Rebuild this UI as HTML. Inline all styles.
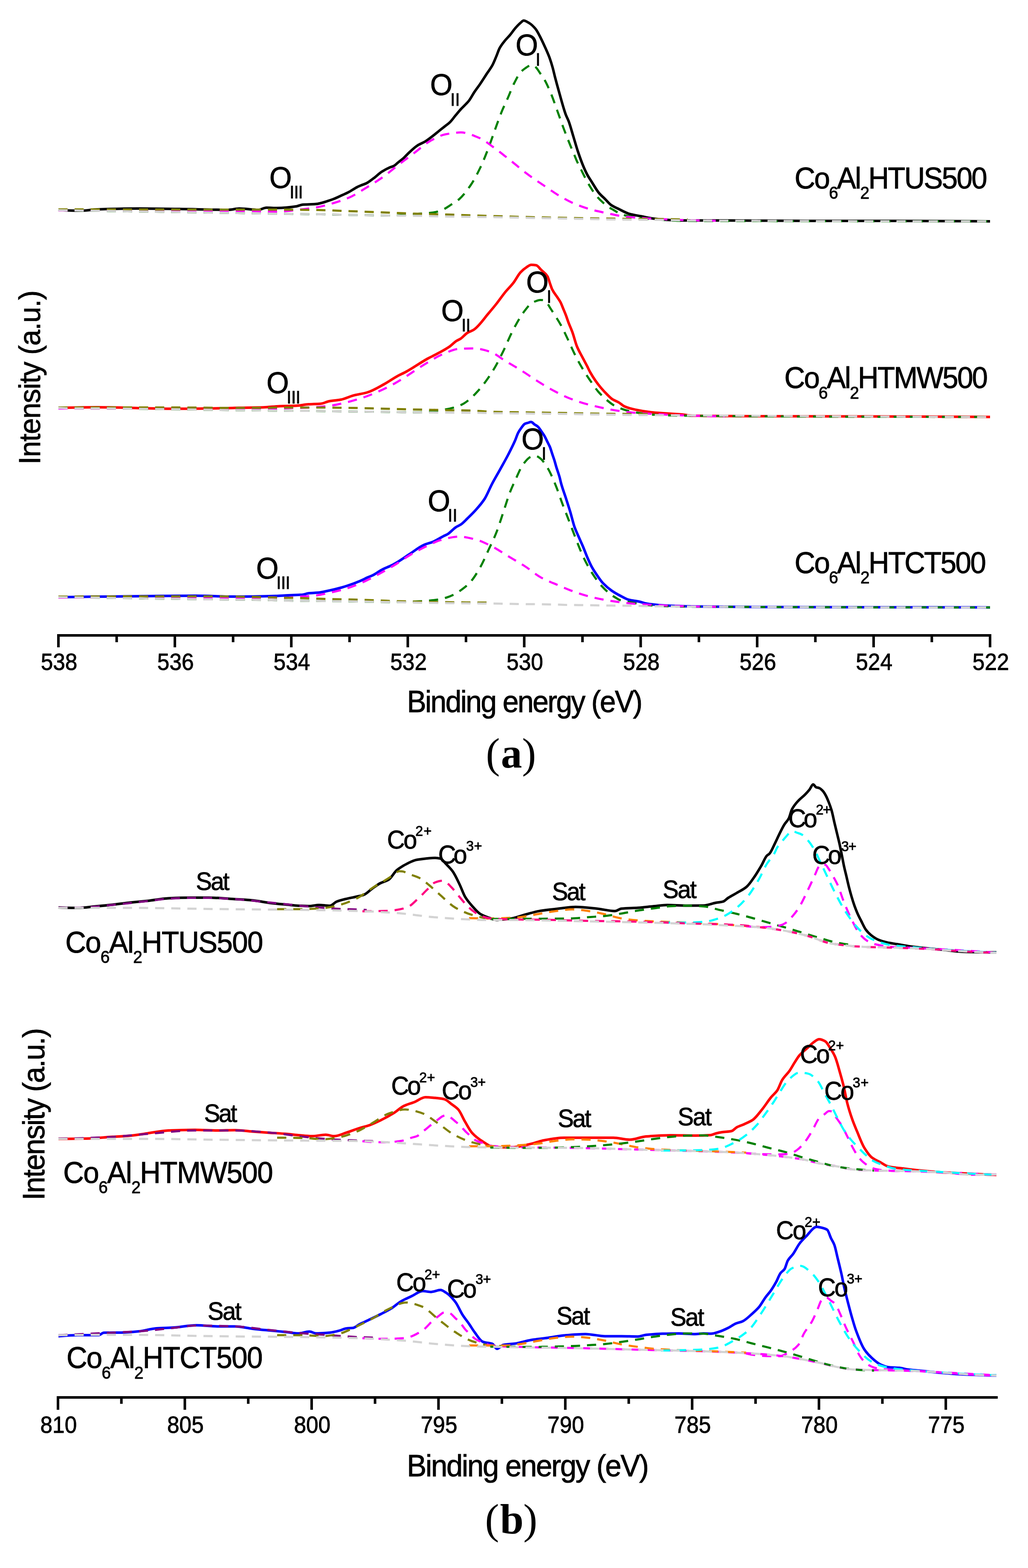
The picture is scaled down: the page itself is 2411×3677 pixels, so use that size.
<!DOCTYPE html><html><head><meta charset="utf-8"><title>XPS spectra</title><style>html,body{margin:0;padding:0;background:#fff;}svg{display:block;}text{stroke:#000;stroke-width:1px;}</style></head><body>
<svg width="2411" height="3677" viewBox="0 0 2411 3677">
<rect width="2411" height="3677" fill="#fff"/>
<path d="M137.0,492.0 C154.7,493.9 172.3,494.0 190.0,494.0 C202.7,494.0 215.3,491.5 228.0,491.0 C260.0,489.8 292.0,489.0 324.0,489.0 C356.0,489.0 388.0,489.6 420.0,490.0 C458.7,490.5 497.3,492.0 536.0,492.0 C544.3,492.0 552.7,489.0 561.0,489.0 C576.0,489.0 591.0,492.0 606.0,492.0 C612.3,492.0 618.7,487.0 625.0,487.0 C633.3,487.0 641.7,487.8 650.0,487.8 C665.3,487.8 680.7,486.0 696.0,483.7 C700.3,483.0 704.7,480.4 709.0,480.0 C719.2,479.1 729.5,479.4 739.7,478.6 C753.1,477.6 766.6,472.1 780.0,467.5 C786.4,465.3 792.8,462.1 799.2,459.2 C805.6,456.3 812.0,453.6 818.4,450.2 C824.8,446.8 831.3,441.9 837.7,438.7 C840.7,437.2 843.6,436.0 846.6,434.8 C850.9,433.0 855.1,431.8 859.4,429.7 C865.0,426.9 870.5,422.3 876.1,418.2 C882.5,413.5 888.9,406.9 895.3,402.8 C901.7,398.7 908.1,395.2 914.5,392.5 C917.5,391.2 920.5,390.8 923.5,389.3 C926.9,387.6 930.3,383.7 933.7,381.0 C938.0,377.5 942.3,374.5 946.6,370.7 C950.4,367.3 954.2,362.8 958.0,359.2 C964.8,352.8 971.6,346.1 978.4,341.7 C984.8,337.5 991.3,335.5 997.7,331.5 C1004.1,327.6 1010.5,322.4 1016.9,317.4 C1021.2,314.1 1025.4,310.4 1029.7,307.0 C1034.0,303.6 1038.2,300.3 1042.5,296.9 C1046.8,293.5 1051.0,290.7 1055.3,286.6 C1059.5,282.5 1063.8,276.3 1068.0,271.2 C1072.3,266.0 1076.7,260.6 1081.0,255.9 C1085.2,251.3 1089.5,247.5 1093.7,243.0 C1095.8,240.8 1097.9,238.7 1100.0,236.0 C1104.3,230.5 1108.5,221.9 1112.8,215.5 C1117.1,209.1 1121.3,203.8 1125.6,197.6 C1131.2,189.5 1136.7,180.5 1142.3,172.0 C1146.5,165.5 1150.8,160.5 1155.0,152.7 C1158.0,147.2 1161.0,139.4 1164.0,132.2 C1166.6,126.1 1169.1,117.8 1171.7,113.0 C1175.6,105.8 1179.4,101.2 1183.3,96.4 C1187.5,91.1 1191.8,87.3 1196.0,82.3 C1200.3,77.1 1204.7,70.5 1209.0,65.6 C1213.2,60.8 1217.5,56.3 1221.7,52.8 C1223.8,51.1 1225.9,48.3 1228.0,48.3 C1232.3,48.3 1236.7,51.4 1241.0,54.0 C1246.1,57.0 1251.2,61.9 1256.3,68.2 C1259.7,72.4 1263.2,79.5 1266.6,86.0 C1270.9,94.1 1275.1,103.4 1279.4,113.0 C1282.8,120.6 1286.2,128.0 1289.6,137.4 C1291.7,143.3 1293.9,150.4 1296.0,158.0 C1298.0,165.1 1300.0,174.3 1302.0,182.0 C1305.0,193.5 1308.0,204.4 1311.0,215.0 C1316.3,233.8 1321.7,254.9 1327.0,269.0 C1329.3,275.0 1331.5,278.5 1333.8,284.5 C1337.4,294.1 1341.1,308.1 1344.7,320.0 C1348.2,331.6 1351.8,344.4 1355.3,355.0 C1359.7,368.0 1364.0,380.2 1368.4,390.5 C1371.4,397.6 1374.4,404.2 1377.4,409.7 C1380.8,416.0 1384.3,420.9 1387.7,426.3 C1393.2,435.1 1398.8,445.3 1404.3,452.0 C1409.4,458.2 1414.6,462.2 1419.7,467.3 C1424.0,471.6 1428.2,477.2 1432.5,480.2 C1438.9,484.7 1445.3,487.3 1451.7,490.4 C1460.2,494.6 1468.8,499.7 1477.3,502.0 C1485.9,504.3 1494.4,505.3 1503.0,507.0 C1512.0,508.7 1521.0,511.0 1530.0,512.2 C1539.0,513.4 1548.0,514.4 1557.0,515.0 C1571.3,515.9 1585.7,517.0 1600.0,517.0 C1633.3,517.0 1666.7,517.0 1700.0,517.0 C1766.7,517.0 1833.3,518.0 1900.0,518.0 C1966.7,518.0 2033.3,518.0 2100.0,518.0 C2174.0,518.0 2248.0,518.5 2322.0,519.0" fill="none" stroke="#000000" stroke-width="6.0" stroke-linejoin="round"/>
<path d="M137.0,493.0 C157.0,493.3 177.0,493.6 197.0,493.9 C217.0,494.2 237.0,494.6 257.0,494.9 C277.0,495.2 297.0,495.5 317.0,495.8 C337.0,496.1 357.0,496.4 377.0,496.7 C397.0,497.1 417.0,497.4 437.0,497.7 C457.0,498.0 477.0,498.3 497.0,498.6 C517.0,499.0 537.0,499.3 557.0,499.6 C577.0,499.9 597.0,500.3 617.0,500.6 C637.0,500.9 657.0,501.2 677.0,501.5 C697.0,501.8 717.0,502.0 737.0,502.3 C757.0,502.6 777.0,503.1 797.0,503.5 C817.0,503.9 837.0,504.3 857.0,504.6 C877.0,505.0 897.0,505.5 917.0,505.5 C939.7,505.5 962.3,502.7 985.0,501.0 C993.3,500.4 1001.7,499.9 1010.0,499.0 C1013.7,498.6 1017.3,498.2 1021.0,497.5 C1026.7,496.4 1032.3,494.4 1038.0,492.0 C1044.7,489.2 1051.3,484.3 1058.0,480.0 C1064.3,475.9 1070.7,472.5 1077.0,467.0 C1086.0,459.2 1095.0,447.2 1104.0,434.0 C1111.7,422.7 1119.3,408.0 1127.0,392.0 C1133.3,378.8 1139.7,362.5 1146.0,346.0 C1151.0,333.0 1156.0,317.7 1161.0,304.0 C1166.3,289.4 1171.7,273.9 1177.0,261.0 C1181.5,250.1 1186.0,241.2 1190.5,231.0 C1195.7,219.3 1200.8,205.2 1206.0,195.0 C1211.0,185.2 1216.0,175.0 1221.0,169.4 C1224.7,165.3 1228.3,162.5 1232.0,160.0 C1235.8,157.4 1239.7,154.4 1243.5,153.5 C1245.7,153.0 1247.8,152.5 1250.0,152.5 C1252.3,152.5 1254.7,155.7 1257.0,158.0 C1260.3,161.3 1263.7,167.2 1267.0,172.0 C1270.3,176.8 1273.7,181.2 1277.0,187.0 C1282.0,195.7 1287.0,207.1 1292.0,219.0 C1297.2,231.3 1302.3,246.8 1307.5,261.0 C1312.7,275.2 1317.8,290.3 1323.0,304.0 C1328.0,317.2 1333.0,329.8 1338.0,342.0 C1340.7,348.5 1343.3,354.7 1346.0,361.0 C1348.7,367.3 1351.3,374.2 1354.0,380.0 C1357.0,386.5 1360.0,392.0 1363.0,398.0 C1366.3,404.7 1369.7,411.7 1373.0,418.0 C1376.3,424.3 1379.7,430.5 1383.0,436.0 C1387.7,443.7 1392.3,451.2 1397.0,457.0 C1402.0,463.2 1407.0,468.4 1412.0,473.0 C1417.3,477.9 1422.7,482.4 1428.0,486.0 C1432.0,488.7 1436.0,490.6 1440.0,493.0 C1443.3,495.0 1446.7,497.3 1450.0,499.0 C1453.3,500.7 1456.7,502.5 1460.0,503.5 C1469.3,506.4 1478.7,508.1 1488.0,509.5 C1498.7,511.1 1509.3,512.4 1520.0,513.3 C1533.0,514.4 1546.0,515.3 1559.0,516.0 C1572.7,516.8 1586.3,517.9 1600.0,518.0 C1840.7,518.9 2081.3,519.0 2322.0,519.0" fill="none" stroke="#008000" stroke-width="5.0" stroke-dasharray="21.5 16.3" stroke-linejoin="round"/>
<path d="M137.0,493.5 C157.0,493.5 177.0,493.5 197.0,493.6 C217.0,493.6 237.0,493.6 257.0,493.6 C277.0,493.6 297.0,493.7 317.0,493.7 C337.0,493.7 357.0,493.7 377.0,493.8 C397.0,493.8 417.0,493.8 437.0,493.9 C457.0,493.9 477.0,493.9 497.0,494.0 C518.0,494.0 539.0,494.3 560.0,494.5 C573.3,494.6 586.7,494.8 600.0,495.0 C613.3,495.2 626.7,496.5 640.0,496.5 C650.0,496.5 660.0,495.7 670.0,495.0 C682.7,494.2 695.3,492.5 708.0,491.0 C720.7,489.5 733.3,487.9 746.0,485.6 C758.3,483.3 770.7,479.7 783.0,476.0 C795.9,472.1 808.8,467.8 821.7,462.0 C834.5,456.3 847.2,447.4 860.0,439.6 C872.0,432.3 884.0,425.0 896.0,416.6 C908.7,407.7 921.3,396.7 934.0,387.0 C947.0,377.0 960.0,367.4 973.0,357.6 C984.9,348.6 996.8,337.3 1008.7,330.7 C1020.7,324.1 1032.6,317.3 1044.6,315.0 C1056.7,312.7 1068.9,310.6 1081.0,310.6 C1095.0,310.6 1109.0,317.3 1123.0,323.0 C1135.7,328.2 1148.3,338.9 1161.0,348.0 C1174.0,357.3 1187.0,368.3 1200.0,378.6 C1212.7,388.6 1225.3,399.6 1238.0,409.0 C1251.0,418.7 1264.0,427.2 1277.0,436.0 C1289.7,444.5 1302.3,453.7 1315.0,461.0 C1326.0,467.3 1337.0,473.4 1348.0,478.0 C1361.0,483.4 1374.0,488.0 1387.0,491.6 C1399.3,495.0 1411.7,497.4 1424.0,500.0 C1436.7,502.7 1449.3,505.9 1462.0,507.5 C1474.7,509.1 1487.3,510.2 1500.0,511.0 C1512.7,511.8 1525.3,512.4 1538.0,513.0 C1558.7,514.0 1579.3,515.5 1600.0,516.0 C1633.3,516.8 1666.7,517.5 1700.0,517.5" fill="none" stroke="#ff00ff" stroke-width="5.0" stroke-dasharray="21.5 16.3" stroke-linejoin="round"/>
<path d="M137.0,491.0 C201.3,491.0 265.7,491.1 330.0,491.2 C393.3,491.3 456.7,491.5 520.0,491.5 C560.0,491.5 600.0,491.5 640.0,491.5 C675.3,491.5 710.7,492.0 746.0,492.5 C771.0,492.9 796.0,494.3 821.0,495.2 C846.0,496.1 871.0,497.0 896.0,498.0 C921.3,499.0 946.7,500.2 972.0,501.0 C997.0,501.8 1022.0,502.3 1047.0,503.0 C1084.7,504.1 1122.3,505.7 1160.0,506.8 C1197.7,507.9 1235.3,509.0 1273.0,509.8 C1311.0,510.6 1349.0,511.4 1387.0,512.0 C1412.0,512.4 1437.0,512.8 1462.0,513.0 C1486.7,513.2 1511.3,513.3 1536.0,513.5 C1561.7,513.8 1587.3,514.3 1613.0,515.0" fill="none" stroke="#808000" stroke-width="5.0" stroke-dasharray="21.5 16.3" stroke-linejoin="round"/>
<path d="M137.0,493.0 C201.3,494.0 265.7,495.0 330.0,496.0 C393.3,497.0 456.7,498.0 520.0,499.0 C560.0,499.6 600.0,500.4 640.0,501.0 C675.3,501.5 710.7,501.8 746.0,502.4 C771.0,502.8 796.0,503.5 821.0,504.0 C846.0,504.5 871.0,505.0 896.0,505.3 C921.3,505.6 946.7,505.7 972.0,506.0 C997.0,506.3 1022.0,507.3 1047.0,507.7 C1084.7,508.4 1122.3,508.7 1160.0,509.3 C1197.7,509.9 1235.3,510.8 1273.0,511.5 C1311.0,512.2 1349.0,513.0 1387.0,513.7 C1412.0,514.2 1437.0,514.8 1462.0,515.0 C1486.7,515.2 1511.3,515.3 1536.0,515.5 C1561.7,515.8 1587.3,516.8 1613.0,517.0 C1849.3,518.5 2085.7,519.0 2322.0,519.0" fill="none" stroke="#d3d3d3" stroke-width="5.0" stroke-dasharray="21.5 16.3" stroke-linejoin="round"/>
<path d="M137.0,956.6 C167.3,955.7 197.7,955.0 228.0,955.0 C287.8,955.0 347.7,958.5 407.5,958.5 C450.2,958.5 492.9,957.8 535.6,957.0 C543.7,956.9 551.9,956.5 560.0,956.3 C579.2,955.9 598.5,955.9 617.7,955.3 C630.5,954.9 643.2,952.9 656.0,952.4 C668.8,951.9 681.7,952.0 694.5,951.5 C704.1,951.1 713.8,948.6 723.4,948.0 C733.0,947.4 742.6,947.5 752.2,946.7 C758.6,946.2 765.0,942.2 771.4,941.0 C781.0,939.1 790.6,938.9 800.2,937.0 C809.8,935.1 819.4,930.0 829.0,927.4 C840.0,924.4 851.0,923.4 862.0,920.0 C874.9,916.1 887.9,908.0 900.8,901.0 C911.5,895.2 922.1,887.4 932.8,881.6 C939.2,878.1 945.6,875.5 952.0,872.0 C969.0,862.8 986.0,850.4 1003.0,841.0 C1011.0,836.6 1019.0,833.1 1027.0,828.7 C1036.0,823.8 1045.0,819.2 1054.0,813.0 C1059.2,809.4 1064.5,803.4 1069.7,800.0 C1073.4,797.6 1077.0,796.4 1080.7,794.0 C1085.8,790.6 1090.9,783.8 1096.0,780.6 C1101.2,777.3 1106.3,776.4 1111.5,773.0 C1123.0,765.5 1134.5,747.9 1146.0,734.5 C1152.3,727.1 1158.7,719.5 1165.0,711.5 C1171.5,703.3 1178.0,693.6 1184.5,685.6 C1191.0,677.6 1197.5,671.8 1204.0,663.4 C1209.7,656.1 1215.3,644.4 1221.0,638.4 C1225.5,633.6 1230.0,629.9 1234.5,627.0 C1238.3,624.5 1242.2,621.0 1246.0,621.0 C1249.8,621.0 1253.7,621.4 1257.5,622.0 C1261.3,622.6 1265.2,629.0 1269.0,632.7 C1274.0,637.6 1279.0,640.0 1284.0,648.0 C1286.0,651.2 1288.0,659.5 1290.0,665.0 C1291.8,669.9 1293.5,675.6 1295.3,679.2 C1299.5,687.7 1303.8,691.8 1308.0,698.4 C1310.2,701.8 1312.3,704.6 1314.5,708.7 C1316.7,712.8 1318.8,718.8 1321.0,724.0 C1323.1,729.0 1325.2,733.9 1327.3,739.4 C1329.4,745.0 1331.6,751.8 1333.7,757.4 C1335.8,762.9 1337.9,767.4 1340.0,772.7 C1340.9,775.1 1341.9,777.4 1342.8,780.0 C1346.2,789.5 1349.6,803.6 1353.0,812.0 C1357.3,822.6 1361.6,829.4 1365.9,837.7 C1369.7,845.1 1373.6,851.9 1377.4,859.4 C1379.5,863.6 1381.7,868.4 1383.8,872.2 C1388.1,879.9 1392.3,886.6 1396.6,892.7 C1400.9,898.8 1405.1,904.3 1409.4,909.4 C1414.5,915.5 1419.7,921.0 1424.8,926.0 C1428.6,929.7 1432.5,933.8 1436.3,936.3 C1441.4,939.6 1446.6,941.0 1451.7,944.0 C1456.0,946.5 1460.2,951.1 1464.5,953.0 C1473.0,956.7 1481.5,958.8 1490.0,960.6 C1503.3,963.4 1516.7,965.6 1530.0,967.0 C1553.3,969.4 1576.7,969.8 1600.0,972.0 C1607.7,972.7 1615.3,974.7 1623.0,974.8 C1682.0,975.8 1741.0,975.8 1800.0,976.0 C1866.7,976.2 1933.3,976.3 2000.0,976.5 C2107.3,976.8 2214.7,977.2 2322.0,977.7" fill="none" stroke="#ff0000" stroke-width="6.0" stroke-linejoin="round"/>
<path d="M137.0,956.4 C157.0,957.0 177.0,957.6 197.0,957.7 C217.0,957.8 237.0,957.8 257.0,957.9 C277.0,957.9 297.0,958.5 317.0,958.7 C337.0,959.0 357.0,959.1 377.0,959.4 C397.0,959.6 417.0,959.9 437.0,960.2 C457.0,960.5 477.0,960.9 497.0,961.2 C517.0,961.5 537.0,961.9 557.0,962.1 C577.0,962.3 597.0,962.3 617.0,962.5 C637.0,962.7 657.0,963.1 677.0,963.3 C697.0,963.5 717.0,963.5 737.0,963.7 C757.0,963.9 777.0,964.5 797.0,964.8 C817.0,965.0 837.0,965.1 857.0,965.4 C877.0,965.6 897.0,965.9 917.0,966.2 C937.0,966.4 957.0,967.1 977.0,967.1 C999.7,967.1 1022.3,963.5 1045.0,960.0 C1051.7,959.0 1058.3,957.4 1065.0,955.5 C1071.5,953.6 1078.1,951.3 1084.6,948.0 C1091.1,944.8 1097.5,939.5 1104.0,934.0 C1109.0,929.8 1114.0,924.5 1119.0,919.0 C1125.3,912.1 1131.7,904.5 1138.0,896.0 C1145.7,885.7 1153.3,874.1 1161.0,861.0 C1167.5,849.8 1174.1,836.4 1180.6,823.0 C1187.1,809.7 1193.5,793.4 1200.0,780.6 C1206.3,768.0 1212.7,756.3 1219.0,746.0 C1222.9,739.7 1226.7,733.8 1230.6,728.8 C1235.7,722.2 1240.9,715.0 1246.0,711.5 C1249.3,709.3 1252.7,707.7 1256.0,706.5 C1259.7,705.2 1263.3,703.5 1267.0,703.5 C1270.0,703.5 1273.0,703.7 1276.0,704.0 C1278.7,704.3 1281.3,708.7 1284.0,712.0 C1286.5,715.1 1289.0,720.1 1291.5,724.0 C1294.3,728.4 1297.2,732.5 1300.0,737.0 C1305.2,745.2 1310.3,753.1 1315.5,762.5 C1320.7,771.9 1325.8,783.0 1331.0,794.0 C1333.3,799.0 1335.7,804.5 1338.0,809.5 C1343.2,820.7 1348.4,832.1 1353.6,842.0 C1358.7,851.8 1363.9,860.6 1369.0,869.0 C1374.0,877.2 1379.0,884.7 1384.0,892.0 C1390.5,901.5 1397.1,911.5 1403.6,919.0 C1410.1,926.4 1416.5,932.6 1423.0,938.0 C1429.3,943.3 1435.7,948.6 1442.0,951.7 C1454.7,957.9 1467.3,962.5 1480.0,965.0 C1499.3,968.9 1518.7,971.8 1538.0,972.8 C1558.7,973.9 1579.3,974.6 1600.0,974.8 C1840.7,977.0 2081.3,977.7 2322.0,977.7" fill="none" stroke="#008000" stroke-width="5.0" stroke-dasharray="21.5 16.3" stroke-linejoin="round"/>
<path d="M137.0,958.0 C157.0,958.0 177.0,958.0 197.0,958.0 C217.0,958.0 237.0,958.0 257.0,958.0 C277.0,958.0 297.0,958.0 317.0,958.0 C337.0,958.0 357.0,958.0 377.0,958.0 C397.0,958.0 417.0,958.1 437.0,958.3 C457.0,958.4 477.0,958.5 497.0,958.7 C517.0,958.8 537.0,959.0 557.0,959.0 C577.0,959.0 597.0,959.0 617.0,959.0 C638.0,959.0 659.0,957.6 680.0,957.0 C693.3,956.6 706.7,956.5 720.0,956.0 C737.7,955.3 755.3,953.6 773.0,951.5 C785.7,950.0 798.3,947.0 811.0,944.0 C823.3,941.1 835.7,937.5 848.0,933.5 C859.0,929.9 870.0,925.7 881.0,921.0 C896.0,914.6 911.0,907.2 926.0,899.0 C950.7,885.5 975.3,866.3 1000.0,851.8 C1012.8,844.3 1025.6,835.9 1038.4,830.6 C1051.3,825.3 1064.1,818.7 1077.0,818.0 C1088.5,817.4 1100.0,817.0 1111.5,817.0 C1124.3,817.0 1137.2,821.0 1150.0,825.0 C1161.5,828.6 1173.0,839.1 1184.5,846.0 C1197.3,853.7 1210.2,861.0 1223.0,869.0 C1235.7,876.9 1248.3,886.1 1261.0,894.0 C1274.0,902.1 1287.0,910.2 1300.0,917.0 C1312.7,923.7 1325.3,930.1 1338.0,935.0 C1350.7,939.9 1363.3,944.1 1376.0,947.6 C1388.7,951.1 1401.3,954.0 1414.0,956.7 C1426.3,959.3 1438.7,961.9 1451.0,963.6 C1464.0,965.4 1477.0,967.0 1490.0,968.0 C1506.7,969.3 1523.3,970.1 1540.0,971.0 C1560.0,972.1 1580.0,973.4 1600.0,974.0 C1633.3,975.0 1666.7,976.0 1700.0,976.0" fill="none" stroke="#ff00ff" stroke-width="5.0" stroke-dasharray="21.5 16.3" stroke-linejoin="round"/>
<path d="M137.0,955.5 C224.7,955.5 312.3,955.5 400.0,955.5 C449.0,955.5 498.0,956.5 547.0,956.5 C571.7,956.5 596.3,956.5 621.0,956.5 C634.0,956.5 647.0,955.7 660.0,955.7 C685.7,955.7 711.3,955.7 737.0,955.7 C761.7,955.7 786.3,956.1 811.0,956.4 C836.3,956.7 861.7,957.4 887.0,958.0 C912.0,958.6 937.0,959.4 962.0,960.0 C987.0,960.6 1012.0,961.0 1037.0,961.5 C1062.0,962.0 1087.0,962.2 1112.0,963.0 C1124.7,963.4 1137.3,965.1 1150.0,965.5 C1175.0,966.3 1200.0,966.6 1225.0,967.0 C1250.0,967.4 1275.0,967.6 1300.0,968.0 C1325.0,968.4 1350.0,969.1 1375.0,969.5 C1400.7,969.9 1426.3,970.3 1452.0,970.5 C1478.0,970.7 1504.0,970.9 1530.0,971.0" fill="none" stroke="#808000" stroke-width="5.0" stroke-dasharray="21.5 16.3" stroke-linejoin="round"/>
<path d="M137.0,956.4 C148.0,957.0 159.0,957.7 170.0,957.7 C195.3,957.7 220.7,957.7 246.0,957.7 C271.3,957.7 296.7,958.5 322.0,958.8 C347.0,959.1 372.0,959.3 397.0,959.6 C422.0,959.9 447.0,960.4 472.0,960.8 C497.0,961.2 522.0,961.8 547.0,962.0 C571.7,962.2 596.3,962.2 621.0,962.5 C634.0,962.6 647.0,963.1 660.0,963.2 C685.7,963.5 711.3,963.5 737.0,963.7 C761.7,963.9 786.3,964.7 811.0,965.0 C836.3,965.3 861.7,965.3 887.0,965.6 C912.0,965.9 937.0,966.8 962.0,967.0 C987.0,967.2 1012.0,967.3 1037.0,967.5 C1062.0,967.7 1087.0,967.7 1112.0,968.0 C1124.7,968.1 1137.3,968.6 1150.0,968.8 C1175.0,969.1 1200.0,969.2 1225.0,969.5 C1250.0,969.8 1275.0,970.2 1300.0,970.5 C1325.0,970.8 1350.0,971.1 1375.0,971.5 C1400.7,971.9 1426.3,972.4 1452.0,972.7 C1477.0,973.0 1502.0,973.2 1527.0,973.4 C1552.0,973.6 1577.0,973.8 1602.0,974.0 C1842.0,975.7 2082.0,977.2 2322.0,978.0" fill="none" stroke="#d3d3d3" stroke-width="5.0" stroke-dasharray="21.5 16.3" stroke-linejoin="round"/>
<path d="M137.0,1400.4 C188.7,1399.7 240.3,1399.0 292.0,1398.5 C347.7,1397.9 403.3,1397.0 459.0,1397.0 C488.7,1397.0 518.3,1399.0 548.0,1399.0 C580.8,1399.0 613.7,1398.4 646.5,1397.5 C656.1,1397.2 665.7,1396.4 675.3,1396.0 C683.5,1395.6 691.8,1395.4 700.0,1395.0 C703.3,1394.8 706.7,1394.7 710.0,1394.4 C714.5,1394.0 718.9,1391.7 723.4,1391.2 C730.6,1390.4 737.8,1390.5 745.0,1389.8 C753.8,1389.0 762.6,1386.8 771.4,1385.0 C781.0,1383.0 790.6,1380.7 800.2,1378.0 C809.8,1375.3 819.4,1372.0 829.0,1368.5 C835.4,1366.1 841.9,1363.6 848.3,1360.7 C852.2,1359.0 856.1,1356.8 860.0,1355.0 C864.8,1352.8 869.5,1351.3 874.3,1349.0 C881.5,1345.5 888.8,1339.5 896.0,1335.8 C903.3,1332.0 910.5,1329.6 917.8,1326.0 C923.6,1323.1 929.4,1319.7 935.2,1316.2 C943.9,1310.9 952.7,1304.5 961.4,1298.8 C972.3,1291.7 983.1,1282.8 994.0,1278.0 C1001.3,1274.8 1008.5,1273.5 1015.8,1270.5 C1023.9,1267.1 1031.9,1261.5 1040.0,1257.4 C1043.3,1255.7 1046.7,1254.5 1050.0,1252.5 C1056.3,1248.7 1062.7,1240.5 1069.0,1236.4 C1072.9,1233.9 1076.8,1232.6 1080.7,1230.0 C1085.8,1226.5 1090.9,1220.9 1096.0,1216.0 C1102.3,1209.9 1108.7,1203.9 1115.0,1196.8 C1122.2,1188.8 1129.3,1181.1 1136.5,1170.0 C1142.2,1161.1 1148.0,1146.2 1153.7,1135.3 C1160.1,1123.1 1166.6,1112.3 1173.0,1100.7 C1179.3,1089.2 1185.7,1078.3 1192.0,1066.0 C1197.2,1055.9 1202.5,1045.7 1207.7,1033.8 C1210.3,1028.0 1212.8,1019.5 1215.4,1014.6 C1217.9,1009.8 1220.5,1006.4 1223.0,1003.0 C1225.6,999.6 1228.1,995.3 1230.7,994.0 C1233.3,992.7 1235.8,992.3 1238.4,991.5 C1240.8,990.8 1243.1,989.6 1245.5,989.6 C1248.3,989.6 1251.0,993.5 1253.8,995.4 C1256.4,997.1 1258.9,998.2 1261.5,1000.5 C1264.1,1002.8 1266.6,1007.1 1269.2,1010.7 C1271.8,1014.3 1274.3,1017.9 1276.9,1022.3 C1279.5,1026.7 1282.0,1032.5 1284.6,1037.7 C1286.3,1041.1 1288.0,1043.9 1289.7,1048.0 C1291.4,1052.1 1293.1,1058.2 1294.8,1063.3 C1296.5,1068.5 1298.3,1073.2 1300.0,1078.7 C1301.7,1084.0 1303.3,1090.5 1305.0,1096.0 C1307.6,1104.4 1310.1,1110.7 1312.7,1120.0 C1313.8,1124.0 1314.9,1129.6 1316.0,1133.6 C1319.6,1146.8 1323.3,1155.9 1326.9,1167.2 C1330.5,1178.3 1334.0,1188.9 1337.6,1200.8 C1340.7,1211.3 1343.9,1225.4 1347.0,1234.4 C1350.2,1243.5 1353.3,1249.9 1356.5,1257.3 C1360.1,1265.6 1363.6,1273.1 1367.2,1281.5 C1370.8,1290.0 1374.4,1300.0 1378.0,1308.3 C1381.1,1315.5 1384.3,1322.8 1387.4,1328.5 C1393.2,1339.1 1399.0,1347.3 1404.8,1355.4 C1407.9,1359.8 1411.1,1364.2 1414.2,1367.5 C1420.9,1374.6 1427.7,1380.3 1434.4,1385.0 C1441.1,1389.7 1447.9,1393.5 1454.6,1397.0 C1461.3,1400.5 1468.0,1404.7 1474.7,1406.5 C1483.1,1408.7 1491.6,1409.1 1500.0,1411.0 C1504.7,1412.0 1509.3,1414.1 1514.0,1415.0 C1524.7,1417.0 1535.3,1418.2 1546.0,1419.0 C1556.7,1419.8 1567.3,1420.4 1578.0,1420.8 C1595.3,1421.4 1612.7,1422.0 1630.0,1422.2 C1686.7,1422.9 1743.3,1423.3 1800.0,1423.5 C1974.0,1424.0 2148.0,1424.4 2322.0,1424.4" fill="none" stroke="#0000ff" stroke-width="6.0" stroke-linejoin="round"/>
<path d="M137.0,1400.5 C157.0,1400.7 177.0,1401.0 197.0,1401.2 C217.0,1401.5 237.0,1401.8 257.0,1402.0 C277.0,1402.3 297.0,1402.5 317.0,1402.8 C337.0,1403.1 357.0,1403.8 377.0,1404.1 C397.0,1404.3 417.0,1404.4 437.0,1404.6 C457.0,1404.9 477.0,1405.3 497.0,1405.6 C517.0,1405.9 537.0,1406.1 557.0,1406.3 C577.0,1406.5 597.0,1406.6 617.0,1406.9 C637.0,1407.2 657.0,1408.3 677.0,1408.6 C697.0,1408.9 717.0,1409.0 737.0,1409.2 C757.0,1409.4 777.0,1409.6 797.0,1409.8 C817.0,1410.1 837.0,1410.5 857.0,1410.9 C877.0,1411.2 897.0,1411.9 917.0,1411.9 C939.7,1411.9 962.3,1411.0 985.0,1410.0 C989.7,1409.8 994.3,1409.4 999.0,1409.0 C1008.3,1408.2 1017.7,1407.4 1027.0,1406.0 C1034.0,1404.9 1041.0,1403.1 1048.0,1401.0 C1053.7,1399.3 1059.3,1396.8 1065.0,1394.0 C1071.7,1390.7 1078.3,1386.0 1085.0,1381.0 C1091.3,1376.2 1097.7,1371.1 1104.0,1364.0 C1111.7,1355.4 1119.3,1342.6 1127.0,1329.0 C1133.3,1317.8 1139.7,1302.7 1146.0,1289.0 C1152.3,1275.3 1158.7,1262.9 1165.0,1246.7 C1170.2,1233.4 1175.4,1216.1 1180.6,1200.6 C1185.7,1185.3 1190.9,1167.8 1196.0,1154.5 C1200.5,1142.9 1205.0,1133.3 1209.5,1123.7 C1215.3,1111.4 1221.0,1096.5 1226.8,1089.0 C1233.2,1080.7 1239.6,1072.4 1246.0,1070.7 C1249.3,1069.8 1252.7,1069.0 1256.0,1069.0 C1259.3,1069.0 1262.7,1071.7 1266.0,1074.0 C1272.0,1078.1 1278.0,1087.3 1284.0,1096.8 C1290.5,1107.2 1297.1,1123.1 1303.6,1139.0 C1308.7,1151.5 1313.9,1167.7 1319.0,1181.4 C1324.0,1194.7 1329.0,1207.0 1334.0,1220.0 C1339.3,1233.9 1344.7,1248.6 1350.0,1262.0 C1356.3,1278.0 1362.7,1294.8 1369.0,1308.0 C1375.3,1321.2 1381.7,1332.9 1388.0,1342.8 C1395.7,1354.8 1403.3,1365.6 1411.0,1374.0 C1418.3,1382.1 1425.7,1388.9 1433.0,1394.4 C1436.3,1396.9 1439.7,1399.0 1443.0,1401.0 C1446.5,1403.1 1450.0,1405.8 1453.5,1407.0 C1462.6,1410.0 1471.6,1411.0 1480.7,1412.7 C1493.0,1415.0 1505.3,1417.9 1517.6,1419.0 C1531.7,1420.3 1545.9,1421.0 1560.0,1421.5 C1573.3,1422.0 1586.7,1422.4 1600.0,1422.5 C1840.7,1424.0 2081.3,1424.4 2322.0,1424.4" fill="none" stroke="#008000" stroke-width="5.0" stroke-dasharray="21.5 16.3" stroke-linejoin="round"/>
<path d="M137.0,1401.5 C157.0,1401.5 177.0,1401.4 197.0,1401.4 C217.0,1401.3 237.0,1401.3 257.0,1401.3 C277.0,1401.2 297.0,1401.2 317.0,1401.2 C337.0,1401.1 357.0,1401.0 377.0,1401.0 C397.0,1401.0 417.0,1401.0 437.0,1401.0 C457.0,1401.0 477.0,1401.1 497.0,1401.1 C517.0,1401.1 537.0,1401.9 557.0,1401.9 C584.7,1401.9 612.3,1401.0 640.0,1401.0 C646.7,1401.0 653.3,1402.5 660.0,1402.5 C672.7,1402.5 685.3,1400.4 698.0,1399.5 C710.8,1398.6 723.7,1398.2 736.5,1397.0 C748.8,1395.8 761.2,1392.7 773.5,1390.0 C786.2,1387.3 798.8,1384.3 811.5,1380.5 C824.2,1376.7 836.8,1371.5 849.5,1366.0 C862.0,1360.6 874.5,1353.7 887.0,1347.0 C899.6,1340.3 912.1,1333.1 924.7,1325.5 C937.3,1317.9 949.9,1308.4 962.5,1301.0 C975.0,1293.7 987.5,1287.0 1000.0,1281.0 C1011.0,1275.8 1022.0,1269.7 1033.0,1266.7 C1047.7,1262.7 1062.3,1258.3 1077.0,1258.3 C1089.7,1258.3 1102.3,1261.9 1115.0,1265.0 C1127.9,1268.2 1140.8,1274.9 1153.7,1281.3 C1166.5,1287.6 1179.2,1296.7 1192.0,1304.4 C1204.9,1312.1 1217.7,1319.2 1230.6,1327.5 C1243.4,1335.8 1256.2,1347.4 1269.0,1354.4 C1281.8,1361.4 1294.7,1366.2 1307.5,1371.7 C1318.0,1376.2 1328.5,1380.9 1339.0,1384.8 C1351.9,1389.6 1364.7,1394.1 1377.6,1397.6 C1389.9,1400.9 1402.2,1403.7 1414.5,1406.0 C1427.2,1408.4 1439.8,1410.4 1452.5,1412.0 C1465.0,1413.6 1477.5,1415.0 1490.0,1416.0 C1503.3,1417.1 1516.7,1417.8 1530.0,1418.5 C1553.3,1419.7 1576.7,1421.0 1600.0,1421.5 C1633.3,1422.3 1666.7,1423.0 1700.0,1423.0" fill="none" stroke="#ff00ff" stroke-width="5.0" stroke-dasharray="21.5 16.3" stroke-linejoin="round"/>
<path d="M137.0,1399.0 C224.7,1398.7 312.3,1398.5 400.0,1398.5 C436.7,1398.5 473.3,1398.5 510.0,1398.6 C547.0,1398.7 584.0,1399.7 621.0,1400.5 C634.0,1400.8 647.0,1401.2 660.0,1401.5 C672.7,1401.8 685.3,1402.0 698.0,1402.3 C711.0,1402.6 724.0,1403.1 737.0,1403.5 C749.3,1403.9 761.7,1404.4 774.0,1404.8 C786.3,1405.2 798.7,1405.4 811.0,1405.7 C823.3,1406.0 835.7,1406.2 848.0,1406.5 C861.0,1406.9 874.0,1407.5 887.0,1408.0 C899.7,1408.5 912.3,1409.1 925.0,1409.5 C937.3,1409.9 949.7,1410.2 962.0,1410.5 C974.7,1410.8 987.3,1411.0 1000.0,1411.2 C1025.0,1411.6 1050.0,1412.3 1075.0,1412.5 C1100.0,1412.7 1125.0,1413.0 1150.0,1413.0" fill="none" stroke="#808000" stroke-width="5.0" stroke-dasharray="21.5 16.3" stroke-linejoin="round"/>
<path d="M137.0,1400.5 C148.0,1400.7 159.0,1400.9 170.0,1401.0 C195.3,1401.3 220.7,1401.3 246.0,1401.7 C259.0,1401.9 272.0,1402.8 285.0,1402.8 C297.3,1402.8 309.7,1402.8 322.0,1402.8 C334.7,1402.8 347.3,1403.9 360.0,1404.0 C372.3,1404.1 384.7,1404.1 397.0,1404.2 C409.7,1404.3 422.3,1404.4 435.0,1404.6 C447.3,1404.8 459.7,1405.3 472.0,1405.4 C484.7,1405.5 497.3,1405.6 510.0,1405.7 C522.3,1405.8 534.7,1406.3 547.0,1406.3 C559.7,1406.3 572.3,1406.3 585.0,1406.3 C597.0,1406.3 609.0,1406.7 621.0,1407.0 C630.7,1407.2 640.3,1407.7 650.0,1408.0 C666.0,1408.4 682.0,1408.9 698.0,1409.0 C711.0,1409.1 724.0,1409.1 737.0,1409.2 C749.3,1409.3 761.7,1409.5 774.0,1409.6 C786.3,1409.7 798.7,1409.8 811.0,1410.0 C823.3,1410.2 835.7,1410.5 848.0,1410.7 C861.0,1411.0 874.0,1411.3 887.0,1411.5 C899.7,1411.7 912.3,1411.8 925.0,1412.0 C937.3,1412.2 949.7,1412.5 962.0,1412.8 C974.3,1413.1 986.7,1413.4 999.0,1413.6 C1011.7,1413.8 1024.3,1413.8 1037.0,1414.0 C1049.7,1414.2 1062.3,1414.6 1075.0,1414.7 C1087.3,1414.8 1099.7,1414.9 1112.0,1415.0 C1124.7,1415.1 1137.3,1415.2 1150.0,1415.3 C1162.7,1415.4 1175.3,1415.6 1188.0,1415.8 C1200.3,1416.0 1212.7,1416.6 1225.0,1416.7 C1237.7,1416.8 1250.3,1416.8 1263.0,1416.9 C1276.0,1417.0 1289.0,1417.3 1302.0,1417.6 C1314.3,1417.9 1326.7,1418.7 1339.0,1418.8 C1351.7,1418.9 1364.3,1418.9 1377.0,1419.0 C1389.3,1419.1 1401.7,1419.9 1414.0,1420.0 C1426.7,1420.1 1439.3,1420.1 1452.0,1420.2 C1464.7,1420.3 1477.3,1420.5 1490.0,1420.7 C1502.7,1420.9 1515.3,1421.4 1528.0,1421.6 C1540.3,1421.8 1552.7,1421.9 1565.0,1422.0 C1577.3,1422.1 1589.7,1422.4 1602.0,1422.5 C1842.0,1423.9 2082.0,1424.5 2322.0,1424.5" fill="none" stroke="#d3d3d3" stroke-width="5.0" stroke-dasharray="21.5 16.3" stroke-linejoin="round"/>
<path d="M137.0,2128.0 C152.0,2129.0 167.0,2129.0 182.0,2129.0 C195.7,2129.0 209.3,2126.8 223.0,2125.6 C236.7,2124.4 250.3,2123.0 264.0,2121.5 C277.7,2120.0 291.3,2118.1 305.0,2116.6 C318.7,2115.1 332.3,2114.0 346.0,2112.5 C362.3,2110.7 378.7,2107.1 395.0,2106.4 C412.8,2105.6 430.7,2105.0 448.5,2105.0 C462.2,2105.0 475.8,2105.0 489.5,2105.0 C510.0,2105.0 530.5,2107.1 551.0,2108.4 C564.7,2109.3 578.3,2110.0 592.0,2111.3 C605.7,2112.6 619.3,2115.8 633.0,2117.4 C646.7,2119.0 660.3,2120.2 674.0,2121.5 C682.7,2122.3 691.3,2123.5 700.0,2123.9 C708.5,2124.3 717.1,2124.8 725.6,2124.8 C733.1,2124.8 740.5,2122.3 748.0,2122.3 C756.6,2122.3 765.1,2123.9 773.7,2123.9 C779.0,2123.9 784.4,2116.4 789.7,2114.3 C797.1,2111.3 804.6,2109.6 812.0,2107.8 C819.5,2106.0 827.0,2104.7 834.5,2103.0 C840.9,2101.5 847.3,2100.6 853.7,2098.2 C860.1,2095.8 866.6,2088.3 873.0,2083.8 C879.4,2079.3 885.8,2074.3 892.2,2071.0 C898.6,2067.7 905.0,2066.9 911.4,2063.0 C917.8,2059.1 924.2,2045.9 930.6,2040.6 C939.1,2033.6 947.7,2028.8 956.2,2024.6 C962.6,2021.4 969.1,2018.0 975.5,2016.6 C983.0,2015.0 990.4,2014.1 997.9,2013.4 C1005.4,2012.7 1012.8,2011.8 1020.3,2011.8 C1024.5,2011.8 1028.8,2012.5 1033.0,2013.4 C1037.3,2014.4 1041.7,2021.5 1046.0,2026.0 C1051.3,2031.5 1056.7,2036.3 1062.0,2043.8 C1067.3,2051.3 1072.7,2063.2 1078.0,2074.2 C1082.3,2083.0 1086.5,2095.9 1090.8,2103.0 C1096.1,2111.9 1101.5,2117.9 1106.8,2123.9 C1113.2,2131.2 1119.6,2139.1 1126.0,2143.0 C1133.5,2147.6 1140.9,2150.1 1148.4,2152.7 C1153.7,2154.6 1159.1,2157.5 1164.4,2157.5 C1167.3,2157.5 1170.1,2157.1 1173.0,2156.8 C1182.0,2156.0 1191.0,2155.1 1200.0,2153.7 C1211.5,2151.9 1223.1,2147.0 1234.6,2144.0 C1244.7,2141.3 1254.9,2138.1 1265.0,2136.4 C1277.9,2134.2 1290.8,2133.0 1303.7,2131.5 C1319.1,2129.8 1334.6,2126.8 1350.0,2126.8 C1366.7,2126.8 1383.3,2129.0 1400.0,2130.7 C1414.0,2132.1 1428.0,2136.4 1442.0,2136.4 C1447.2,2136.4 1452.3,2131.2 1457.5,2130.7 C1470.3,2129.4 1483.2,2129.6 1496.0,2128.8 C1508.7,2128.0 1521.3,2126.2 1534.0,2125.0 C1544.3,2124.0 1554.7,2122.2 1565.0,2122.2 C1580.3,2122.2 1595.7,2123.8 1611.0,2123.8 C1624.0,2123.8 1637.0,2123.7 1650.0,2123.5 C1659.6,2123.4 1669.2,2118.8 1678.8,2117.0 C1684.5,2115.9 1690.3,2115.8 1696.0,2114.2 C1699.9,2113.1 1703.8,2108.1 1707.7,2105.6 C1714.4,2101.2 1721.1,2098.0 1727.8,2094.0 C1735.5,2089.4 1743.3,2086.1 1751.0,2079.6 C1757.7,2074.0 1764.3,2063.4 1771.0,2053.7 C1775.9,2046.6 1780.7,2038.3 1785.6,2030.0 C1789.9,2022.7 1794.1,2011.3 1798.4,2006.8 C1800.5,2004.5 1802.7,2004.0 1804.8,2001.7 C1809.1,1997.1 1813.4,1985.9 1817.7,1977.3 C1821.1,1970.4 1824.6,1962.5 1828.0,1955.6 C1831.8,1948.0 1835.6,1939.8 1839.4,1933.8 C1842.8,1928.3 1846.3,1926.1 1849.7,1919.7 C1852.3,1914.9 1854.8,1902.9 1857.4,1898.0 C1862.1,1889.0 1866.8,1883.9 1871.5,1878.7 C1877.0,1872.6 1882.5,1868.9 1888.0,1863.3 C1891.5,1859.8 1894.9,1856.1 1898.4,1851.8 C1901.4,1848.1 1904.3,1839.5 1907.3,1839.5 C1909.4,1839.5 1911.6,1845.1 1913.7,1846.0 C1916.3,1847.1 1918.8,1847.0 1921.4,1848.0 C1924.4,1849.2 1927.4,1852.2 1930.4,1855.6 C1932.6,1858.1 1934.8,1861.9 1937.0,1866.0 C1939.1,1869.8 1941.1,1874.8 1943.2,1880.0 C1945.6,1885.9 1947.9,1892.1 1950.3,1900.2 C1952.6,1908.2 1955.0,1920.6 1957.3,1930.4 C1959.3,1939.0 1961.4,1947.1 1963.4,1955.6 C1965.4,1963.9 1967.4,1971.7 1969.4,1980.8 C1971.1,1988.5 1972.8,1997.5 1974.5,2006.0 C1976.2,2014.3 1977.8,2023.6 1979.5,2031.3 C1981.5,2040.5 1983.5,2048.0 1985.5,2056.5 C1987.3,2064.3 1989.2,2072.8 1991.0,2080.0 C1993.0,2087.9 1995.0,2095.2 1997.0,2102.0 C1999.3,2109.9 2001.7,2117.5 2004.0,2124.0 C2006.7,2131.4 2009.3,2138.1 2012.0,2144.0 C2014.7,2149.9 2017.3,2154.8 2020.0,2160.0 C2023.5,2166.9 2027.1,2175.2 2030.6,2180.0 C2034.7,2185.6 2038.9,2189.7 2043.0,2193.0 C2048.7,2197.5 2054.3,2201.3 2060.0,2203.7 C2066.7,2206.5 2073.3,2208.5 2080.0,2210.0 C2087.9,2211.8 2095.8,2212.7 2103.7,2214.0 C2112.3,2215.5 2120.8,2217.1 2129.4,2218.4 C2137.9,2219.7 2146.5,2220.7 2155.0,2221.7 C2172.0,2223.6 2189.0,2225.1 2206.0,2226.8 C2223.2,2228.5 2240.3,2231.5 2257.5,2232.0 C2284.0,2232.7 2310.5,2233.2 2337.0,2233.2" fill="none" stroke="#000000" stroke-width="6.0" stroke-linejoin="round"/>
<path d="M137.0,2128.0 C152.0,2128.5 167.0,2128.5 182.0,2128.5 C209.3,2128.5 236.7,2124.5 264.0,2122.0 C291.3,2119.5 318.7,2116.0 346.0,2113.0 C362.3,2111.2 378.7,2108.4 395.0,2107.5 C412.8,2106.5 430.7,2105.5 448.5,2105.5 C462.2,2105.5 475.8,2105.5 489.5,2105.5 C510.0,2105.5 530.5,2107.2 551.0,2108.5 C578.3,2110.2 605.7,2113.8 633.0,2116.5 C660.3,2119.2 687.7,2122.5 715.0,2125.0 C726.7,2126.1 738.3,2127.1 750.0,2128.0 C766.7,2129.3 783.3,2130.8 800.0,2131.5 C810.0,2131.9 820.0,2132.1 830.0,2132.5 C840.0,2132.9 850.0,2133.4 860.0,2134.0" fill="none" stroke="#800080" stroke-width="5.0" stroke-dasharray="21.5 16.3" stroke-linejoin="round"/>
<path d="M650.0,2132.0 C670.9,2132.0 691.9,2132.0 712.8,2131.9 C729.9,2131.8 746.9,2130.4 764.0,2128.7 C774.7,2127.6 785.3,2125.1 796.0,2122.3 C808.8,2119.0 821.7,2113.9 834.5,2107.8 C848.3,2101.2 862.2,2089.4 876.0,2080.6 C889.9,2071.8 903.9,2064.8 917.8,2055.0 C921.2,2052.6 924.6,2049.1 928.0,2047.0 C930.7,2045.4 933.3,2043.0 936.0,2043.0 C938.7,2043.0 941.3,2043.2 944.0,2043.5 C947.8,2043.9 951.6,2046.2 955.4,2047.7 C959.2,2049.2 963.1,2050.8 966.9,2052.3 C971.9,2054.3 977.0,2055.6 982.0,2058.0 C986.0,2059.9 990.0,2062.9 994.0,2065.7 C998.0,2068.5 1002.0,2072.0 1006.0,2075.3 C1014.0,2082.0 1022.0,2089.7 1030.0,2096.6 C1042.8,2107.6 1055.6,2121.5 1068.4,2128.7 C1082.3,2136.5 1096.1,2142.4 1110.0,2146.3 C1122.8,2149.9 1135.6,2153.5 1148.4,2154.3 C1165.6,2155.3 1182.8,2156.0 1200.0,2156.0" fill="none" stroke="#808000" stroke-width="5.0" stroke-dasharray="21.5 16.3" stroke-linejoin="round"/>
<path d="M1100.0,2153.0 C1116.7,2153.6 1133.3,2153.7 1150.0,2153.7 C1169.2,2153.7 1188.5,2152.8 1207.7,2151.8 C1226.8,2150.8 1245.9,2146.1 1265.0,2143.0 C1277.9,2140.9 1290.8,2138.0 1303.7,2136.4 C1316.5,2134.8 1329.2,2132.6 1342.0,2132.6 C1354.9,2132.6 1367.7,2134.7 1380.6,2136.4 C1393.4,2138.1 1406.2,2141.2 1419.0,2144.0 C1431.8,2146.8 1444.7,2151.6 1457.5,2153.7 C1470.3,2155.8 1483.2,2157.4 1496.0,2158.4 C1508.7,2159.4 1521.3,2160.1 1534.0,2160.7 C1556.0,2161.7 1578.0,2162.1 1600.0,2163.0 C1633.3,2164.4 1666.7,2165.9 1700.0,2168.0 C1733.3,2170.1 1766.7,2172.8 1800.0,2176.0" fill="none" stroke="#ff8000" stroke-width="5.0" stroke-dasharray="21.5 16.3" stroke-linejoin="round"/>
<path d="M1150.0,2155.0 C1188.3,2155.0 1226.7,2154.7 1265.0,2154.5 C1290.7,2154.3 1316.3,2154.2 1342.0,2153.7 C1354.9,2153.4 1367.7,2151.6 1380.6,2150.7 C1393.4,2149.8 1406.2,2149.2 1419.0,2148.0 C1431.8,2146.8 1444.7,2144.3 1457.5,2142.2 C1470.3,2140.1 1483.2,2137.3 1496.0,2135.3 C1508.7,2133.3 1521.3,2131.7 1534.0,2130.0 C1547.0,2128.3 1560.0,2125.7 1573.0,2125.0 C1585.7,2124.4 1598.3,2123.8 1611.0,2123.8 C1624.0,2123.8 1637.0,2124.6 1650.0,2125.5 C1663.3,2126.5 1676.7,2131.4 1690.0,2134.4 C1702.6,2137.2 1715.2,2139.9 1727.8,2143.0 C1740.3,2146.1 1752.8,2149.5 1765.3,2153.0 C1778.8,2156.7 1792.2,2160.8 1805.7,2164.7 C1819.1,2168.6 1832.6,2172.2 1846.0,2176.2 C1858.5,2179.9 1871.0,2183.9 1883.5,2187.7 C1897.0,2191.8 1910.5,2196.1 1924.0,2200.0 C1936.0,2203.5 1948.0,2207.7 1960.0,2210.0 C1973.3,2212.6 1986.7,2214.9 2000.0,2216.0" fill="none" stroke="#008000" stroke-width="5.0" stroke-dasharray="21.5 16.3" stroke-linejoin="round"/>
<path d="M1750.0,2172.0 C1766.7,2174.0 1783.3,2174.0 1800.0,2174.0 C1810.0,2174.0 1820.0,2172.2 1830.0,2170.0 C1834.9,2168.9 1839.7,2166.2 1844.6,2163.0 C1849.7,2159.6 1854.9,2153.1 1860.0,2147.0 C1864.6,2141.6 1869.2,2135.6 1873.8,2128.3 C1880.3,2118.0 1886.9,2103.4 1893.4,2090.0 C1899.4,2077.7 1905.4,2064.4 1911.4,2051.5 C1914.3,2045.3 1917.1,2036.5 1920.0,2033.0 C1922.7,2029.7 1925.3,2026.0 1928.0,2026.0 C1930.7,2026.0 1933.3,2026.9 1936.0,2028.0 C1938.6,2029.1 1941.2,2034.3 1943.8,2038.0 C1947.2,2042.9 1950.6,2049.0 1954.0,2055.0 C1957.5,2061.2 1961.0,2067.2 1964.5,2075.0 C1969.1,2085.3 1973.8,2101.3 1978.4,2113.0 C1984.0,2127.1 1989.6,2140.6 1995.2,2152.0 C2002.5,2166.9 2009.9,2182.7 2017.2,2191.3 C2023.1,2198.2 2029.1,2203.6 2035.0,2207.0 C2040.5,2210.1 2046.0,2212.6 2051.5,2214.0 C2064.7,2217.3 2077.8,2219.5 2091.0,2220.4 C2110.7,2221.8 2130.3,2222.0 2150.0,2223.0 C2212.3,2226.1 2274.7,2229.6 2337.0,2234.0" fill="none" stroke="#ff00ff" stroke-width="5.0" stroke-dasharray="21.5 16.3" stroke-linejoin="round"/>
<path d="M1550.0,2163.0 C1570.3,2163.4 1590.7,2163.4 1611.0,2163.4 C1624.0,2163.4 1637.0,2162.7 1650.0,2161.8 C1662.5,2160.9 1675.0,2157.2 1687.5,2153.0 C1698.0,2149.5 1708.5,2143.1 1719.0,2135.8 C1729.7,2128.4 1740.3,2118.0 1751.0,2105.6 C1760.6,2094.4 1770.1,2078.6 1779.7,2062.3 C1786.1,2051.3 1792.6,2035.0 1799.0,2025.0 C1801.8,2020.7 1804.6,2017.6 1807.4,2013.7 C1810.2,2009.9 1812.9,2006.6 1815.7,2002.0 C1818.3,1997.7 1820.8,1990.3 1823.4,1986.3 C1826.6,1981.4 1829.8,1978.5 1833.0,1974.6 C1836.2,1970.7 1839.4,1966.4 1842.6,1963.0 C1847.7,1957.6 1852.9,1949.0 1858.0,1949.0 C1862.0,1949.0 1866.0,1951.6 1870.0,1953.0 C1873.5,1954.2 1876.9,1955.1 1880.4,1957.0 C1885.1,1959.5 1889.8,1965.0 1894.5,1970.3 C1899.8,1976.4 1905.2,1984.3 1910.5,1993.4 C1914.8,2000.7 1919.0,2011.1 1923.3,2020.0 C1929.5,2032.9 1935.6,2046.1 1941.8,2059.0 C1948.1,2072.1 1954.4,2085.9 1960.7,2098.0 C1967.8,2111.6 1974.8,2125.0 1981.9,2136.0 C1991.3,2150.7 2000.8,2164.2 2010.2,2174.5 C2016.8,2181.7 2023.4,2188.3 2030.0,2193.0 C2036.3,2197.5 2042.5,2201.4 2048.8,2204.0 C2062.9,2209.8 2076.9,2214.5 2091.0,2216.6 C2103.8,2218.5 2116.6,2219.3 2129.4,2220.4 C2152.9,2222.5 2176.5,2224.4 2200.0,2226.0 C2245.7,2229.1 2291.3,2232.0 2337.0,2234.0" fill="none" stroke="#00ffff" stroke-width="5.0" stroke-dasharray="21.5 16.3" stroke-linejoin="round"/>
<path d="M850.0,2137.0 C869.4,2137.0 888.8,2136.6 908.2,2136.0 C923.1,2135.5 938.1,2132.9 953.0,2128.7 C962.6,2126.0 972.3,2114.7 981.9,2106.2 C988.3,2100.6 994.6,2093.1 1001.0,2087.0 C1007.4,2080.8 1013.9,2071.7 1020.3,2069.4 C1026.7,2067.1 1033.1,2065.2 1039.5,2065.2 C1045.9,2065.2 1052.3,2074.4 1058.7,2080.6 C1064.1,2085.8 1069.4,2093.5 1074.8,2099.8 C1081.2,2107.4 1087.6,2115.8 1094.0,2122.3 C1099.3,2127.7 1104.7,2132.9 1110.0,2136.7 C1117.5,2142.0 1124.9,2147.2 1132.4,2149.5 C1139.9,2151.8 1147.3,2153.8 1154.8,2154.3 C1169.9,2155.3 1184.9,2155.7 1200.0,2156.0 C1221.7,2156.4 1243.3,2156.5 1265.0,2156.8 C1303.5,2157.4 1342.1,2158.8 1380.6,2159.5 C1419.1,2160.2 1457.5,2160.5 1496.0,2161.4 C1534.3,2162.2 1572.7,2164.0 1611.0,2165.3 C1649.5,2166.6 1688.0,2167.1 1726.5,2169.0 C1753.8,2170.4 1781.2,2174.0 1808.5,2177.6 C1822.9,2179.5 1837.4,2182.0 1851.8,2184.8 C1866.2,2187.6 1880.6,2191.1 1895.0,2195.0 C1913.3,2200.0 1931.7,2209.8 1950.0,2212.7 C1975.7,2216.7 2001.3,2219.3 2027.0,2220.4 C2052.6,2221.5 2078.1,2221.7 2103.7,2222.5 C2129.3,2223.3 2155.0,2224.3 2180.6,2225.6 C2206.2,2226.9 2231.9,2229.3 2257.5,2230.7 C2284.0,2232.2 2310.5,2233.5 2337.0,2234.5" fill="none" stroke="#ff0080" stroke-width="5.0" stroke-dasharray="21.5 16.3" stroke-linejoin="round"/>
<path d="M137.0,2129.0 C193.0,2129.0 249.0,2129.0 305.0,2129.0 C373.3,2129.0 441.7,2131.0 510.0,2131.8 C578.3,2132.6 646.7,2132.9 715.0,2133.8 C752.7,2134.3 790.3,2135.0 828.0,2136.0 C860.0,2136.9 892.0,2138.4 924.0,2140.5 C956.1,2142.6 988.2,2148.5 1020.3,2151.0 C1052.3,2153.5 1084.4,2155.8 1116.4,2156.8 C1127.6,2157.2 1138.8,2157.6 1150.0,2157.6 C1166.7,2157.6 1183.3,2157.5 1200.0,2157.5 C1260.2,2157.5 1320.4,2159.5 1380.6,2160.7 C1470.4,2162.5 1560.2,2164.2 1650.0,2167.5 C1669.2,2168.2 1688.5,2169.4 1707.7,2170.4 C1726.9,2171.4 1746.1,2172.0 1765.3,2173.3 C1779.7,2174.3 1794.1,2175.8 1808.5,2177.6 C1822.9,2179.4 1837.4,2182.0 1851.8,2184.8 C1866.2,2187.6 1880.6,2191.1 1895.0,2195.0 C1913.3,2200.0 1931.7,2209.8 1950.0,2212.7 C1975.7,2216.7 2001.3,2219.3 2027.0,2220.4 C2052.6,2221.5 2078.1,2221.7 2103.7,2222.5 C2129.3,2223.3 2155.0,2224.3 2180.6,2225.6 C2206.2,2226.9 2231.9,2229.3 2257.5,2230.7 C2284.0,2232.2 2310.5,2233.5 2337.0,2234.5" fill="none" stroke="#d3d3d3" stroke-width="5.0" stroke-dasharray="21.5 16.3" stroke-linejoin="round"/>
<path d="M137.0,2670.7 C158.8,2670.7 180.7,2670.4 202.5,2670.0 C223.0,2669.6 243.5,2667.1 264.0,2665.8 C277.7,2664.9 291.3,2664.5 305.0,2663.3 C318.7,2662.1 332.3,2659.5 346.0,2657.6 C362.3,2655.4 378.7,2651.7 395.0,2651.0 C415.6,2650.1 436.1,2649.4 456.7,2649.4 C474.5,2649.4 492.2,2651.0 510.0,2651.0 C523.7,2651.0 537.3,2650.2 551.0,2650.2 C564.7,2650.2 578.3,2652.5 592.0,2653.5 C605.7,2654.5 619.3,2655.5 633.0,2656.4 C646.7,2657.3 660.3,2658.0 674.0,2659.2 C682.7,2659.9 691.3,2661.2 700.0,2662.0 C710.7,2662.9 721.3,2664.3 732.0,2664.3 C742.7,2664.3 753.3,2661.0 764.0,2661.0 C770.4,2661.0 776.9,2664.3 783.3,2664.3 C792.9,2664.3 802.4,2659.2 812.0,2656.2 C822.7,2652.9 833.3,2648.3 844.0,2645.0 C851.5,2642.7 859.1,2641.2 866.6,2638.6 C875.1,2635.7 883.7,2631.5 892.2,2627.4 C902.9,2622.2 913.5,2616.5 924.2,2609.8 C931.7,2605.1 939.1,2597.5 946.6,2593.8 C955.2,2589.6 963.7,2587.7 972.3,2584.2 C980.8,2580.8 989.4,2573.0 997.9,2573.0 C1005.4,2573.0 1012.8,2573.9 1020.3,2574.6 C1027.8,2575.3 1035.2,2576.0 1042.7,2577.8 C1048.0,2579.1 1053.4,2585.0 1058.7,2589.0 C1064.1,2593.0 1069.4,2595.9 1074.8,2601.8 C1080.1,2607.7 1085.5,2621.6 1090.8,2630.6 C1096.1,2639.6 1101.5,2650.3 1106.8,2656.2 C1115.3,2665.6 1123.9,2671.7 1132.4,2677.0 C1140.9,2682.3 1149.5,2689.6 1158.0,2689.9 C1172.0,2690.3 1186.0,2690.5 1200.0,2690.5 C1215.3,2690.5 1230.7,2685.7 1246.0,2682.2 C1255.0,2680.2 1264.0,2676.2 1273.0,2674.5 C1289.7,2671.4 1306.3,2668.0 1323.0,2668.0 C1342.2,2668.0 1361.4,2668.0 1380.6,2668.0 C1399.8,2668.0 1419.1,2668.0 1438.3,2668.0 C1451.1,2668.0 1463.9,2672.6 1476.7,2672.6 C1489.5,2672.6 1502.2,2666.0 1515.0,2665.0 C1534.3,2663.4 1553.5,2662.2 1572.8,2662.2 C1592.0,2662.2 1611.3,2663.0 1630.5,2663.0 C1642.8,2663.0 1655.0,2662.6 1667.3,2661.7 C1671.1,2661.4 1675.0,2659.0 1678.8,2658.0 C1683.6,2656.8 1688.4,2655.8 1693.2,2655.0 C1700.9,2653.8 1708.6,2653.9 1716.3,2652.2 C1720.1,2651.3 1724.0,2645.7 1727.8,2643.6 C1733.5,2640.5 1739.3,2639.0 1745.0,2636.4 C1751.8,2633.3 1758.5,2630.9 1765.3,2626.3 C1773.0,2621.0 1780.7,2609.8 1788.4,2600.3 C1795.1,2592.0 1801.8,2581.1 1808.5,2573.0 C1813.3,2567.1 1818.2,2564.1 1823.0,2557.0 C1826.8,2551.4 1830.7,2538.7 1834.5,2532.6 C1840.3,2523.4 1846.0,2519.2 1851.8,2511.0 C1855.6,2505.5 1859.5,2498.2 1863.3,2492.2 C1867.1,2486.2 1871.0,2479.5 1874.8,2475.0 C1881.5,2467.1 1888.3,2462.4 1895.0,2456.2 C1899.8,2451.8 1904.6,2446.4 1909.4,2443.2 C1913.3,2440.6 1917.1,2436.9 1921.0,2436.9 C1925.8,2436.9 1930.6,2439.1 1935.4,2441.8 C1939.3,2444.0 1943.1,2451.7 1947.0,2457.7 C1950.8,2463.6 1954.6,2469.1 1958.4,2477.8 C1962.3,2486.6 1966.1,2501.9 1970.0,2515.3 C1972.9,2525.2 1975.7,2535.2 1978.6,2547.0 C1981.5,2558.9 1984.4,2576.2 1987.3,2587.4 C1991.1,2602.2 1995.0,2613.9 1998.8,2624.8 C2002.6,2635.7 2006.5,2644.5 2010.3,2653.7 C2015.8,2666.9 2021.4,2682.1 2026.9,2691.2 C2032.9,2701.0 2038.8,2709.6 2044.8,2714.3 C2051.6,2719.7 2058.5,2722.1 2065.3,2725.8 C2071.3,2729.1 2077.2,2733.9 2083.2,2735.3 C2094.3,2737.9 2105.5,2738.6 2116.6,2740.0 C2129.4,2741.6 2142.2,2743.2 2155.0,2744.5 C2172.1,2746.2 2189.1,2747.9 2206.2,2749.0 C2223.3,2750.1 2240.4,2750.7 2257.5,2751.5 C2284.0,2752.8 2310.5,2754.0 2337.0,2755.3" fill="none" stroke="#ff0000" stroke-width="6.0" stroke-linejoin="round"/>
<path d="M137.0,2670.0 C179.3,2670.0 221.7,2668.0 264.0,2666.0 C291.3,2664.7 318.7,2661.1 346.0,2659.0 C382.9,2656.1 419.8,2651.0 456.7,2651.0 C488.1,2651.0 519.6,2651.0 551.0,2651.0 C578.3,2651.0 605.7,2653.8 633.0,2656.0 C660.3,2658.2 687.7,2663.0 715.0,2666.0 C730.0,2667.6 745.0,2669.4 760.0,2670.5 C773.3,2671.5 786.7,2672.3 800.0,2673.0 C816.7,2673.8 833.3,2674.4 850.0,2675.0 C863.3,2675.5 876.7,2676.0 890.0,2676.5" fill="none" stroke="#800080" stroke-width="5.0" stroke-dasharray="21.5 16.3" stroke-linejoin="round"/>
<path d="M650.0,2668.0 C669.9,2668.0 689.7,2668.2 709.6,2668.4 C725.6,2668.6 741.7,2671.6 757.7,2671.6 C770.5,2671.6 783.2,2669.1 796.0,2666.8 C808.8,2664.5 821.7,2659.7 834.5,2654.6 C847.3,2649.5 860.2,2641.0 873.0,2633.8 C885.8,2626.6 898.6,2615.9 911.4,2611.4 C924.2,2606.9 937.0,2601.8 949.8,2601.8 C962.6,2601.8 975.5,2605.8 988.3,2609.8 C1001.1,2613.8 1013.9,2625.3 1026.7,2633.8 C1039.5,2642.3 1052.2,2654.2 1065.0,2661.0 C1078.9,2668.4 1092.9,2675.0 1106.8,2678.7 C1121.2,2682.5 1135.6,2685.7 1150.0,2687.0 C1166.7,2688.5 1183.3,2690.0 1200.0,2690.0" fill="none" stroke="#808000" stroke-width="5.0" stroke-dasharray="21.5 16.3" stroke-linejoin="round"/>
<path d="M850.0,2676.0 C867.3,2678.3 884.5,2678.7 901.8,2678.7 C917.8,2678.7 933.8,2676.7 949.8,2673.9 C954.9,2673.0 959.9,2669.7 965.0,2668.0 C969.3,2666.6 973.7,2666.1 978.0,2664.3 C981.7,2662.7 985.3,2658.6 989.0,2655.7 C992.7,2652.8 996.3,2650.0 1000.0,2647.0 C1005.8,2642.3 1011.6,2637.1 1017.4,2632.6 C1021.1,2629.7 1024.8,2627.1 1028.5,2624.5 C1032.2,2621.9 1035.8,2618.0 1039.5,2617.0 C1042.3,2616.2 1045.2,2615.5 1048.0,2615.5 C1050.7,2615.5 1053.3,2618.2 1056.0,2620.0 C1059.7,2622.4 1063.3,2625.9 1067.0,2629.0 C1070.7,2632.1 1074.3,2634.9 1078.0,2638.4 C1083.1,2643.2 1088.2,2649.8 1093.3,2654.7 C1096.9,2658.2 1100.4,2661.2 1104.0,2664.3 C1107.8,2667.6 1111.6,2671.9 1115.4,2674.0 C1121.2,2677.2 1126.9,2678.7 1132.7,2680.7 C1140.1,2683.2 1147.4,2686.6 1154.8,2687.4 C1169.9,2689.0 1184.9,2689.6 1200.0,2690.0 C1247.3,2691.1 1294.7,2691.0 1342.0,2691.8 C1406.0,2692.9 1470.0,2695.1 1534.0,2696.8 C1572.7,2697.8 1611.3,2698.6 1650.0,2699.8 C1674.0,2700.6 1698.0,2701.5 1722.0,2702.7 C1746.0,2703.9 1770.0,2705.7 1794.0,2707.9 C1822.9,2710.5 1851.7,2713.7 1880.6,2718.5 C1895.0,2720.9 1909.5,2725.8 1923.9,2728.6 C1938.3,2731.4 1952.6,2733.2 1967.0,2735.8 C1978.3,2737.9 1989.7,2741.6 2001.0,2742.5 C2018.2,2743.9 2035.3,2744.6 2052.5,2745.0 C2078.1,2745.7 2103.8,2745.7 2129.4,2746.3 C2155.0,2746.9 2180.6,2747.8 2206.2,2749.0 C2231.8,2750.2 2257.4,2754.8 2283.0,2754.8 C2301.0,2754.8 2319.0,2754.8 2337.0,2754.0" fill="none" stroke="#ff00ff" stroke-width="5.0" stroke-dasharray="21.5 16.3" stroke-linejoin="round"/>
<path d="M1100.0,2688.0 C1116.7,2688.0 1133.3,2688.0 1150.0,2688.0 C1175.7,2688.0 1201.3,2686.5 1227.0,2685.0 C1239.7,2684.3 1252.3,2683.0 1265.0,2681.5 C1277.9,2680.0 1290.8,2676.8 1303.7,2675.3 C1316.5,2673.8 1329.2,2671.8 1342.0,2671.8 C1354.9,2671.8 1367.7,2672.2 1380.6,2672.6 C1393.4,2673.0 1406.2,2674.8 1419.0,2676.4 C1431.8,2678.0 1444.7,2680.6 1457.5,2683.0 C1470.3,2685.4 1483.2,2689.0 1496.0,2690.7 C1508.7,2692.4 1521.3,2693.6 1534.0,2694.5 C1547.0,2695.5 1560.0,2696.3 1573.0,2696.8 C1598.7,2697.8 1624.3,2698.2 1650.0,2699.0 C1683.3,2700.1 1716.7,2701.5 1750.0,2703.0" fill="none" stroke="#ff8000" stroke-width="5.0" stroke-dasharray="21.5 16.3" stroke-linejoin="round"/>
<path d="M1150.0,2691.0 C1188.3,2691.8 1226.7,2691.8 1265.0,2691.8 C1290.7,2691.8 1316.3,2690.9 1342.0,2690.0 C1354.9,2689.6 1367.7,2688.8 1380.6,2688.0 C1393.4,2687.2 1406.2,2686.4 1419.0,2685.3 C1431.8,2684.2 1444.7,2682.9 1457.5,2681.5 C1470.3,2680.1 1483.2,2678.3 1496.0,2676.5 C1508.7,2674.7 1521.3,2672.4 1534.0,2670.7 C1547.0,2668.9 1560.0,2667.2 1573.0,2666.0 C1585.7,2664.8 1598.3,2663.3 1611.0,2663.0 C1624.0,2662.7 1637.0,2662.5 1650.0,2662.5 C1661.5,2662.5 1673.1,2665.1 1684.6,2666.6 C1697.1,2668.3 1709.5,2670.2 1722.0,2672.4 C1735.5,2674.8 1748.9,2677.8 1762.4,2681.0 C1774.9,2684.0 1787.5,2687.7 1800.0,2691.0 C1813.4,2694.5 1826.9,2697.5 1840.3,2701.2 C1852.8,2704.7 1865.2,2709.1 1877.7,2712.8 C1891.1,2716.8 1904.6,2720.6 1918.0,2724.3 C1930.5,2727.8 1943.1,2732.0 1955.6,2734.4 C1970.4,2737.3 1985.2,2739.5 2000.0,2741.0 C2016.7,2742.7 2033.3,2744.3 2050.0,2745.0" fill="none" stroke="#008000" stroke-width="5.0" stroke-dasharray="21.5 16.3" stroke-linejoin="round"/>
<path d="M1750.0,2704.0 C1776.2,2707.0 1802.5,2707.0 1828.7,2707.0 C1836.4,2707.0 1844.1,2706.5 1851.8,2705.6 C1857.5,2705.0 1863.3,2700.8 1869.0,2697.0 C1874.8,2693.1 1880.6,2686.6 1886.4,2679.6 C1892.2,2672.7 1897.9,2663.1 1903.7,2653.7 C1909.6,2644.1 1915.6,2628.0 1921.5,2622.0 C1925.3,2618.1 1929.2,2616.2 1933.0,2613.5 C1936.8,2610.8 1940.7,2605.5 1944.5,2605.5 C1946.7,2605.5 1948.8,2605.7 1951.0,2606.0 C1953.5,2606.4 1955.9,2613.4 1958.4,2617.0 C1961.1,2620.9 1963.8,2624.4 1966.5,2628.3 C1969.2,2632.1 1971.8,2635.6 1974.5,2640.0 C1978.8,2647.1 1983.0,2656.7 1987.3,2665.2 C1991.9,2674.3 1996.4,2684.7 2001.0,2693.0 C2005.3,2700.8 2009.7,2709.1 2014.0,2714.3 C2020.0,2721.5 2026.0,2727.1 2032.0,2731.0 C2038.8,2735.5 2045.7,2739.6 2052.5,2741.2 C2061.0,2743.2 2069.5,2744.6 2078.0,2745.0 C2102.0,2746.3 2126.0,2746.2 2150.0,2747.0 C2212.3,2749.0 2274.7,2751.7 2337.0,2755.0" fill="none" stroke="#ff00ff" stroke-width="5.0" stroke-dasharray="21.5 16.3" stroke-linejoin="round"/>
<path d="M1550.0,2698.0 C1583.3,2698.0 1616.7,2697.7 1650.0,2697.0 C1661.5,2696.8 1673.1,2695.6 1684.6,2694.0 C1697.1,2692.2 1709.5,2685.7 1722.0,2679.6 C1731.7,2674.9 1741.3,2668.3 1751.0,2660.9 C1758.7,2655.0 1766.3,2647.7 1774.0,2639.3 C1780.7,2632.0 1787.3,2622.3 1794.0,2613.3 C1800.8,2604.1 1807.5,2594.7 1814.3,2584.5 C1819.1,2577.2 1823.9,2568.7 1828.7,2561.4 C1835.5,2551.2 1842.2,2538.9 1849.0,2532.6 C1857.6,2524.7 1866.2,2515.3 1874.8,2515.3 C1881.5,2515.3 1888.3,2516.3 1895.0,2517.6 C1902.7,2519.1 1910.3,2527.0 1918.0,2535.5 C1923.8,2541.9 1929.6,2556.7 1935.4,2567.2 C1940.2,2575.9 1945.0,2584.0 1949.8,2593.1 C1954.6,2602.2 1959.4,2612.8 1964.2,2622.0 C1970.0,2633.1 1975.7,2644.8 1981.5,2653.7 C1986.3,2661.1 1991.2,2667.3 1996.0,2673.0 C2001.0,2678.9 2006.0,2683.8 2011.0,2689.0 C2017.5,2695.7 2024.0,2702.6 2030.5,2708.4 C2036.1,2713.4 2041.8,2718.8 2047.4,2722.0 C2054.2,2725.9 2061.1,2728.6 2067.9,2731.0 C2079.8,2735.2 2091.8,2739.7 2103.7,2741.2 C2135.8,2745.2 2167.9,2746.1 2200.0,2748.0 C2245.7,2750.7 2291.3,2753.2 2337.0,2755.0" fill="none" stroke="#00ffff" stroke-width="5.0" stroke-dasharray="21.5 16.3" stroke-linejoin="round"/>
<path d="M137.0,2670.7 C206.7,2670.7 276.3,2670.7 346.0,2670.7 C400.7,2670.7 455.3,2672.2 510.0,2672.8 C578.3,2673.6 646.7,2674.3 715.0,2674.8 C752.7,2675.1 790.3,2675.1 828.0,2675.5 C868.6,2675.9 909.2,2678.9 949.8,2681.2 C973.3,2682.5 996.8,2684.7 1020.3,2686.0 C1049.1,2687.6 1078.0,2689.5 1106.8,2690.0 C1131.4,2690.4 1155.9,2690.6 1180.5,2690.8 C1234.3,2691.2 1288.2,2691.3 1342.0,2691.8 C1406.0,2692.4 1470.0,2695.1 1534.0,2696.8 C1572.7,2697.8 1611.3,2698.6 1650.0,2699.8 C1674.0,2700.6 1698.0,2701.5 1722.0,2702.7 C1746.0,2703.9 1770.0,2705.7 1794.0,2707.9 C1822.9,2710.5 1851.7,2713.7 1880.6,2718.5 C1895.0,2720.9 1909.5,2725.8 1923.9,2728.6 C1938.3,2731.4 1952.6,2733.2 1967.0,2735.8 C1978.3,2737.9 1989.7,2741.6 2001.0,2742.5 C2018.2,2743.9 2035.3,2744.6 2052.5,2745.0 C2078.1,2745.7 2103.8,2745.7 2129.4,2746.3 C2155.0,2746.9 2180.6,2747.8 2206.2,2749.0 C2231.8,2750.2 2257.4,2754.8 2283.0,2754.8 C2301.0,2754.8 2319.0,2754.8 2337.0,2754.0" fill="none" stroke="#d3d3d3" stroke-width="5.0" stroke-dasharray="21.5 16.3" stroke-linejoin="round"/>
<path d="M137.0,3133.5 C152.0,3132.3 167.0,3131.0 182.0,3131.0 C198.3,3131.0 214.7,3131.0 231.0,3131.0 C235.2,3131.0 239.3,3125.4 243.5,3125.3 C257.2,3125.0 270.8,3125.1 284.5,3124.9 C298.2,3124.7 311.8,3123.4 325.5,3122.0 C339.2,3120.6 352.8,3116.0 366.5,3115.0 C380.2,3114.0 393.8,3113.9 407.5,3113.0 C425.3,3111.9 443.0,3107.7 460.8,3107.7 C477.2,3107.7 493.6,3110.5 510.0,3110.5 C523.7,3110.5 537.3,3110.5 551.0,3110.5 C564.7,3110.5 578.3,3114.3 592.0,3115.9 C605.7,3117.5 619.3,3118.7 633.0,3120.0 C646.7,3121.3 660.3,3122.6 674.0,3124.0 C682.7,3124.9 691.3,3126.8 700.0,3126.8 C708.5,3126.8 717.1,3122.6 725.6,3122.6 C730.9,3122.6 736.3,3126.8 741.6,3126.8 C752.3,3126.8 763.0,3125.9 773.7,3124.9 C781.1,3124.2 788.6,3122.3 796.0,3120.4 C801.3,3119.1 806.7,3115.8 812.0,3115.2 C817.3,3114.5 822.7,3114.7 828.0,3114.0 C833.3,3113.3 838.7,3107.7 844.0,3105.0 C850.5,3101.7 856.9,3099.1 863.4,3096.0 C873.0,3091.4 882.6,3086.9 892.2,3082.0 C900.7,3077.6 909.3,3073.5 917.8,3068.2 C925.2,3063.6 932.6,3056.4 940.0,3052.0 C948.6,3046.9 957.3,3043.4 965.9,3039.3 C974.4,3035.2 983.0,3027.5 991.5,3027.5 C997.9,3027.5 1004.3,3029.7 1010.7,3029.7 C1018.1,3029.7 1025.6,3025.0 1033.0,3025.0 C1037.3,3025.0 1041.7,3028.6 1046.0,3031.3 C1053.5,3036.0 1060.9,3043.9 1068.4,3053.7 C1073.7,3060.7 1079.1,3074.2 1084.4,3082.6 C1089.7,3091.0 1095.1,3097.3 1100.4,3105.0 C1104.7,3111.2 1108.9,3118.6 1113.2,3124.2 C1119.6,3132.7 1126.0,3144.2 1132.4,3146.6 C1139.9,3149.4 1147.3,3148.5 1154.8,3151.4 C1158.3,3152.8 1161.9,3163.0 1165.4,3163.0 C1170.5,3163.0 1175.6,3154.8 1180.7,3153.8 C1189.7,3151.9 1198.7,3152.0 1207.7,3150.7 C1220.5,3148.8 1233.2,3144.3 1246.0,3142.2 C1258.8,3140.1 1271.7,3139.0 1284.5,3137.2 C1297.3,3135.4 1310.2,3132.6 1323.0,3131.5 C1339.7,3130.0 1356.3,3128.4 1373.0,3128.4 C1388.3,3128.4 1403.7,3133.4 1419.0,3133.4 C1431.8,3133.4 1444.7,3133.4 1457.5,3133.4 C1470.3,3133.4 1483.2,3134.2 1496.0,3134.2 C1502.3,3134.2 1508.7,3131.0 1515.0,3130.3 C1527.9,3128.9 1540.7,3128.0 1553.6,3127.6 C1566.4,3127.2 1579.2,3126.9 1592.0,3126.9 C1604.8,3126.9 1617.7,3128.4 1630.5,3128.4 C1637.0,3128.4 1643.5,3127.0 1650.0,3127.0 C1655.8,3127.0 1661.5,3127.5 1667.3,3127.5 C1674.0,3127.5 1680.8,3124.8 1687.5,3122.7 C1694.2,3120.6 1701.0,3117.3 1707.7,3114.0 C1713.5,3111.1 1719.2,3106.5 1725.0,3104.0 C1730.7,3101.6 1736.5,3100.9 1742.2,3098.2 C1748.9,3095.1 1755.7,3088.2 1762.4,3082.3 C1768.3,3077.2 1774.1,3072.2 1780.0,3065.3 C1785.1,3059.2 1790.3,3049.2 1795.4,3042.2 C1799.5,3036.6 1803.6,3032.6 1807.7,3026.8 C1811.8,3021.0 1815.9,3014.2 1820.0,3006.8 C1823.6,3000.4 1827.1,2990.0 1830.7,2985.3 C1833.8,2981.2 1836.9,2980.5 1840.0,2976.0 C1842.6,2972.2 1845.1,2960.4 1847.7,2956.0 C1851.8,2948.9 1855.9,2946.4 1860.0,2940.7 C1865.1,2933.6 1870.2,2922.6 1875.3,2916.0 C1880.4,2909.3 1885.6,2904.3 1890.7,2899.2 C1898.9,2891.0 1907.1,2877.0 1915.3,2877.0 C1918.4,2877.0 1921.4,2877.8 1924.5,2878.4 C1929.7,2879.5 1934.8,2880.5 1940.0,2883.8 C1943.0,2885.7 1946.0,2897.5 1949.0,2903.8 C1951.6,2909.2 1954.2,2912.3 1956.8,2919.2 C1959.4,2926.0 1961.9,2939.5 1964.5,2950.0 C1967.6,2962.5 1970.6,2974.6 1973.7,2988.4 C1975.8,2997.9 1977.9,3009.7 1980.0,3019.0 C1982.5,3030.3 1985.1,3040.1 1987.6,3050.0 C1991.2,3063.9 1994.7,3077.6 1998.3,3090.0 C2001.4,3100.6 2004.4,3111.4 2007.5,3119.8 C2014.0,3137.5 2020.4,3154.2 2026.9,3164.0 C2032.9,3173.1 2038.8,3179.2 2044.8,3184.6 C2051.6,3190.8 2058.5,3197.0 2065.3,3200.0 C2072.1,3203.0 2079.0,3205.6 2085.8,3206.3 C2093.5,3207.0 2101.2,3206.9 2108.9,3207.6 C2115.7,3208.2 2122.6,3210.6 2129.4,3211.5 C2142.2,3213.2 2155.0,3214.0 2167.8,3215.3 C2180.6,3216.6 2193.4,3218.1 2206.2,3219.2 C2223.3,3220.7 2240.4,3222.2 2257.5,3223.0 C2284.0,3224.2 2310.5,3225.4 2337.0,3225.6" fill="none" stroke="#0000ff" stroke-width="6.0" stroke-linejoin="round"/>
<path d="M137.0,3131.0 C172.3,3129.4 207.7,3127.7 243.0,3126.0 C270.3,3124.7 297.7,3123.8 325.0,3122.0 C352.3,3120.2 379.7,3116.8 407.0,3114.0 C424.7,3112.2 442.3,3108.5 460.0,3108.5 C490.3,3108.5 520.7,3109.4 551.0,3110.5 C578.3,3111.5 605.7,3116.3 633.0,3119.0 C660.3,3121.7 687.7,3124.9 715.0,3127.0 C730.0,3128.2 745.0,3128.9 760.0,3130.0 C773.3,3130.9 786.7,3132.1 800.0,3133.0 C816.7,3134.1 833.3,3135.4 850.0,3136.0 C863.3,3136.5 876.7,3136.9 890.0,3137.0" fill="none" stroke="#800080" stroke-width="5.0" stroke-dasharray="21.5 16.3" stroke-linejoin="round"/>
<path d="M650.0,3131.0 C670.9,3131.0 691.9,3131.1 712.8,3131.3 C727.8,3131.4 742.7,3133.2 757.7,3133.2 C770.5,3133.2 783.2,3130.2 796.0,3127.4 C808.8,3124.6 821.7,3117.2 834.5,3111.4 C847.3,3105.6 860.2,3099.1 873.0,3092.2 C885.8,3085.3 898.6,3075.7 911.4,3069.8 C924.9,3063.6 938.5,3054.4 952.0,3054.4 C964.1,3054.4 976.2,3058.9 988.3,3063.4 C1002.2,3068.5 1016.1,3084.9 1030.0,3095.4 C1042.8,3105.1 1055.6,3116.1 1068.4,3124.2 C1081.2,3132.3 1094.0,3140.8 1106.8,3145.0 C1121.2,3149.7 1135.6,3154.0 1150.0,3155.0 C1166.7,3156.2 1183.3,3157.0 1200.0,3157.0" fill="none" stroke="#808000" stroke-width="5.0" stroke-dasharray="21.5 16.3" stroke-linejoin="round"/>
<path d="M850.0,3138.0 C869.4,3139.4 888.8,3139.6 908.2,3139.6 C922.1,3139.6 935.9,3138.8 949.8,3137.7 C963.2,3136.6 976.6,3128.7 990.0,3120.7 C999.1,3115.2 1008.3,3102.2 1017.4,3094.7 C1021.3,3091.5 1025.1,3088.8 1029.0,3086.0 C1032.8,3083.2 1036.7,3078.8 1040.5,3078.0 C1043.0,3077.5 1045.5,3077.0 1048.0,3077.0 C1050.7,3077.0 1053.3,3078.6 1056.0,3080.0 C1059.9,3082.0 1063.7,3087.2 1067.6,3090.8 C1071.4,3094.4 1075.2,3097.3 1079.0,3101.5 C1083.1,3106.0 1087.3,3113.2 1091.4,3117.8 C1095.1,3121.9 1098.8,3124.9 1102.5,3128.4 C1106.2,3131.9 1109.8,3136.5 1113.5,3139.0 C1119.0,3142.8 1124.5,3145.3 1130.0,3147.6 C1137.7,3150.8 1145.3,3154.5 1153.0,3155.3 C1168.7,3157.0 1184.3,3157.5 1200.0,3158.0 C1247.3,3159.6 1294.7,3159.9 1342.0,3161.0 C1406.0,3162.5 1470.0,3164.4 1534.0,3166.0 C1572.7,3167.0 1611.3,3167.6 1650.0,3168.8 C1674.0,3169.5 1698.0,3170.5 1722.0,3171.7 C1746.0,3172.9 1770.0,3174.2 1794.0,3176.0 C1808.5,3177.1 1822.9,3178.5 1837.4,3180.3 C1851.8,3182.1 1866.2,3184.9 1880.6,3187.5 C1895.0,3190.1 1909.5,3193.1 1923.9,3196.2 C1938.3,3199.3 1952.6,3203.7 1967.0,3206.3 C1978.3,3208.4 1989.7,3210.9 2001.0,3211.5 C2026.7,3212.8 2052.3,3212.9 2078.0,3213.5 C2103.7,3214.1 2129.3,3214.4 2155.0,3215.3 C2180.6,3216.2 2206.3,3218.8 2231.9,3220.4 C2257.5,3222.0 2283.1,3224.4 2308.7,3225.0 C2318.1,3225.2 2327.6,3225.4 2337.0,3225.5" fill="none" stroke="#ff00ff" stroke-width="5.0" stroke-dasharray="21.5 16.3" stroke-linejoin="round"/>
<path d="M1100.0,3155.0 C1129.5,3155.3 1158.9,3155.3 1188.4,3155.3 C1201.3,3155.3 1214.1,3152.5 1227.0,3150.7 C1239.8,3148.9 1252.5,3146.0 1265.3,3143.8 C1278.1,3141.5 1290.9,3138.5 1303.7,3137.2 C1316.5,3135.9 1329.2,3134.5 1342.0,3134.5 C1354.9,3134.5 1367.7,3135.9 1380.6,3137.2 C1393.4,3138.5 1406.2,3141.3 1419.0,3143.8 C1431.8,3146.3 1444.7,3150.3 1457.5,3152.6 C1470.3,3154.9 1483.2,3156.7 1496.0,3158.4 C1508.8,3160.1 1521.6,3162.0 1534.4,3163.0 C1547.2,3164.0 1560.0,3164.7 1572.8,3165.3 C1598.5,3166.5 1624.3,3167.0 1650.0,3168.0 C1683.3,3169.2 1716.7,3170.6 1750.0,3172.0" fill="none" stroke="#ff8000" stroke-width="5.0" stroke-dasharray="21.5 16.3" stroke-linejoin="round"/>
<path d="M1150.0,3158.0 C1188.4,3158.4 1226.9,3158.4 1265.3,3158.4 C1290.9,3158.4 1316.4,3157.4 1342.0,3156.5 C1354.9,3156.1 1367.7,3155.3 1380.6,3154.5 C1393.4,3153.7 1406.2,3153.0 1419.0,3151.8 C1431.8,3150.6 1444.7,3148.6 1457.5,3146.8 C1470.3,3145.0 1483.2,3143.0 1496.0,3141.0 C1508.8,3139.0 1521.6,3136.4 1534.4,3134.5 C1547.2,3132.6 1560.0,3130.6 1572.8,3129.5 C1585.5,3128.4 1598.3,3126.9 1611.0,3126.9 C1623.9,3126.9 1636.8,3127.2 1649.7,3127.6 C1661.3,3128.0 1673.0,3130.9 1684.6,3132.8 C1698.1,3135.0 1711.5,3137.1 1725.0,3140.0 C1737.5,3142.7 1749.9,3146.8 1762.4,3150.0 C1775.9,3153.5 1789.3,3156.7 1802.8,3160.2 C1815.3,3163.4 1827.8,3166.7 1840.3,3170.2 C1853.7,3173.9 1867.2,3177.8 1880.6,3181.8 C1893.1,3185.5 1905.5,3189.7 1918.0,3193.3 C1930.5,3196.9 1943.1,3200.7 1955.6,3203.4 C1969.1,3206.3 1982.5,3209.3 1996.0,3210.6 C2014.0,3212.3 2032.0,3214.0 2050.0,3214.0" fill="none" stroke="#008000" stroke-width="5.0" stroke-dasharray="21.5 16.3" stroke-linejoin="round"/>
<path d="M1750.0,3174.0 C1776.2,3180.3 1802.5,3180.3 1828.7,3180.3 C1836.4,3180.3 1844.1,3174.5 1851.8,3170.2 C1858.5,3166.4 1865.3,3162.2 1872.0,3154.4 C1876.8,3148.9 1881.6,3133.8 1886.4,3125.6 C1892.2,3115.7 1897.9,3110.2 1903.7,3100.0 C1908.5,3091.6 1913.2,3079.9 1918.0,3069.0 C1920.7,3062.9 1923.3,3053.7 1926.0,3050.0 C1928.3,3046.7 1930.7,3043.0 1933.0,3043.0 C1935.3,3043.0 1937.7,3043.2 1940.0,3043.5 C1942.7,3043.8 1945.3,3047.5 1948.0,3049.5 C1951.7,3052.3 1955.3,3053.9 1959.0,3058.0 C1962.9,3062.3 1966.8,3073.1 1970.7,3081.6 C1975.3,3091.5 1979.8,3104.1 1984.4,3114.0 C1990.2,3126.5 1995.9,3136.3 2001.7,3148.6 C2005.1,3155.9 2008.6,3165.8 2012.0,3172.0 C2016.1,3179.3 2020.2,3185.9 2024.3,3190.0 C2031.1,3196.9 2038.0,3202.4 2044.8,3205.0 C2051.6,3207.6 2058.5,3209.5 2065.3,3210.2 C2093.5,3213.2 2121.8,3213.4 2150.0,3215.0 C2212.3,3218.4 2274.7,3221.8 2337.0,3225.0" fill="none" stroke="#ff00ff" stroke-width="5.0" stroke-dasharray="21.5 16.3" stroke-linejoin="round"/>
<path d="M1550.0,3167.0 C1570.3,3166.9 1590.7,3166.5 1611.0,3166.0 C1624.0,3165.7 1637.0,3165.3 1650.0,3164.5 C1661.5,3163.8 1673.1,3162.4 1684.6,3160.2 C1697.1,3157.8 1709.5,3149.9 1722.0,3142.9 C1733.6,3136.4 1745.1,3129.2 1756.7,3118.4 C1766.3,3109.4 1775.9,3093.6 1785.5,3079.4 C1794.1,3066.7 1802.8,3051.5 1811.4,3037.6 C1820.1,3023.6 1828.7,3006.9 1837.4,2995.8 C1844.1,2987.2 1850.9,2976.9 1857.6,2974.0 C1864.3,2971.1 1871.0,2968.5 1877.7,2968.5 C1886.4,2968.5 1895.0,2978.1 1903.7,2985.8 C1909.5,2990.9 1915.2,2998.8 1921.0,3007.4 C1926.8,3016.0 1932.5,3027.9 1938.3,3039.0 C1943.1,3048.2 1947.9,3058.4 1952.7,3068.0 C1958.5,3079.6 1964.2,3091.9 1970.0,3102.5 C1976.7,3114.9 1983.5,3127.3 1990.2,3137.1 C1997.9,3148.3 2005.5,3157.9 2013.2,3166.0 C2022.8,3176.1 2032.4,3186.2 2042.0,3191.9 C2049.8,3196.5 2057.5,3200.3 2065.3,3202.5 C2078.1,3206.2 2090.9,3208.6 2103.7,3210.2 C2135.8,3214.1 2167.9,3216.0 2200.0,3218.0 C2245.7,3220.9 2291.3,3223.5 2337.0,3225.0" fill="none" stroke="#00ffff" stroke-width="5.0" stroke-dasharray="21.5 16.3" stroke-linejoin="round"/>
<path d="M137.0,3131.0 C193.0,3130.2 249.0,3130.2 305.0,3130.2 C373.3,3130.2 441.7,3132.7 510.0,3133.5 C578.3,3134.3 646.7,3134.6 715.0,3135.5 C752.7,3136.0 790.3,3136.6 828.0,3137.7 C868.6,3138.8 909.2,3141.1 949.8,3144.0 C973.3,3145.7 996.8,3149.5 1020.3,3151.4 C1049.1,3153.8 1078.0,3156.3 1106.8,3157.2 C1131.4,3158.0 1155.9,3158.3 1180.5,3158.8 C1234.3,3159.8 1288.2,3160.4 1342.0,3161.4 C1406.1,3162.6 1470.3,3164.5 1534.4,3166.0 C1572.9,3166.9 1611.5,3167.6 1650.0,3168.8 C1674.0,3169.5 1698.0,3170.5 1722.0,3171.7 C1746.0,3172.9 1770.0,3174.2 1794.0,3176.0 C1808.5,3177.1 1822.9,3178.5 1837.4,3180.3 C1851.8,3182.1 1866.2,3184.9 1880.6,3187.5 C1895.0,3190.1 1909.5,3193.1 1923.9,3196.2 C1938.3,3199.3 1952.6,3203.7 1967.0,3206.3 C1978.4,3208.4 1989.8,3210.9 2001.2,3211.5 C2026.8,3212.8 2052.4,3212.9 2078.0,3213.5 C2103.7,3214.1 2129.3,3214.4 2155.0,3215.3 C2180.6,3216.2 2206.3,3218.8 2231.9,3220.4 C2257.5,3222.0 2283.1,3224.4 2308.7,3225.0 C2318.1,3225.2 2327.6,3225.4 2337.0,3225.5" fill="none" stroke="#d3d3d3" stroke-width="5.0" stroke-dasharray="21.5 16.3" stroke-linejoin="round"/>
<rect x="134" y="1487" width="2191" height="6" fill="#000"/>
<rect x="2319.0" y="1490" width="6" height="28" fill="#000"/>
<rect x="2182.4" y="1490" width="6" height="16" fill="#000"/>
<rect x="2045.9" y="1490" width="6" height="28" fill="#000"/>
<rect x="1909.3" y="1490" width="6" height="16" fill="#000"/>
<rect x="1772.8" y="1490" width="6" height="28" fill="#000"/>
<rect x="1636.2" y="1490" width="6" height="16" fill="#000"/>
<rect x="1499.6" y="1490" width="6" height="28" fill="#000"/>
<rect x="1363.1" y="1490" width="6" height="16" fill="#000"/>
<rect x="1226.5" y="1490" width="6" height="28" fill="#000"/>
<rect x="1089.9" y="1490" width="6" height="16" fill="#000"/>
<rect x="953.4" y="1490" width="6" height="28" fill="#000"/>
<rect x="816.8" y="1490" width="6" height="16" fill="#000"/>
<rect x="680.2" y="1490" width="6" height="28" fill="#000"/>
<rect x="543.7" y="1490" width="6" height="16" fill="#000"/>
<rect x="407.1" y="1490" width="6" height="28" fill="#000"/>
<rect x="270.6" y="1490" width="6" height="16" fill="#000"/>
<rect x="134.0" y="1490" width="6" height="28" fill="#000"/>
<text transform="scale(0.9200,1)" x="2479.20 2510.29 2541.37" y="1571.50" font-size="55.90" font-family='"Liberation Sans", Arial, sans-serif' font-weight="normal" fill="#000">522</text>
<text transform="scale(0.9200,1)" x="2181.73 2212.82 2243.91" y="1571.50" font-size="55.90" font-family='"Liberation Sans", Arial, sans-serif' font-weight="normal" fill="#000">524</text>
<text transform="scale(0.9200,1)" x="1885.27 1916.36 1947.45" y="1571.50" font-size="55.90" font-family='"Liberation Sans", Arial, sans-serif' font-weight="normal" fill="#000">526</text>
<text transform="scale(0.9200,1)" x="1588.38 1619.47 1650.56" y="1571.50" font-size="55.90" font-family='"Liberation Sans", Arial, sans-serif' font-weight="normal" fill="#000">528</text>
<text transform="scale(0.9200,1)" x="1291.38 1322.47 1353.56" y="1571.50" font-size="55.90" font-family='"Liberation Sans", Arial, sans-serif' font-weight="normal" fill="#000">530</text>
<text transform="scale(0.9200,1)" x="994.82 1025.91 1057.00" y="1571.50" font-size="55.90" font-family='"Liberation Sans", Arial, sans-serif' font-weight="normal" fill="#000">532</text>
<text transform="scale(0.9200,1)" x="697.36 728.45 759.54" y="1571.50" font-size="55.90" font-family='"Liberation Sans", Arial, sans-serif' font-weight="normal" fill="#000">534</text>
<text transform="scale(0.9200,1)" x="400.89 431.98 463.07" y="1571.50" font-size="55.90" font-family='"Liberation Sans", Arial, sans-serif' font-weight="normal" fill="#000">536</text>
<text transform="scale(0.9200,1)" x="104.01 135.09 166.18" y="1571.50" font-size="55.90" font-family='"Liberation Sans", Arial, sans-serif' font-weight="normal" fill="#000">538</text>
<rect x="133" y="3274" width="2207" height="6" fill="#000"/>
<rect x="133.0" y="3277" width="6" height="29" fill="#000"/>
<rect x="281.7" y="3277" width="6" height="15" fill="#000"/>
<rect x="430.5" y="3277" width="6" height="29" fill="#000"/>
<rect x="579.2" y="3277" width="6" height="15" fill="#000"/>
<rect x="727.9" y="3277" width="6" height="29" fill="#000"/>
<rect x="876.6" y="3277" width="6" height="15" fill="#000"/>
<rect x="1025.4" y="3277" width="6" height="29" fill="#000"/>
<rect x="1174.1" y="3277" width="6" height="15" fill="#000"/>
<rect x="1322.8" y="3277" width="6" height="29" fill="#000"/>
<rect x="1471.6" y="3277" width="6" height="15" fill="#000"/>
<rect x="1620.3" y="3277" width="6" height="29" fill="#000"/>
<rect x="1769.0" y="3277" width="6" height="15" fill="#000"/>
<rect x="1917.7" y="3277" width="6" height="29" fill="#000"/>
<rect x="2066.5" y="3277" width="6" height="15" fill="#000"/>
<rect x="2215.2" y="3277" width="6" height="29" fill="#000"/>
<text transform="scale(0.9200,1)" x="2365.82 2396.91 2428.00" y="3360.50" font-size="55.90" font-family='"Liberation Sans", Arial, sans-serif' font-weight="normal" fill="#000">775</text>
<text transform="scale(0.9200,1)" x="2042.42 2073.51 2104.60" y="3360.50" font-size="55.90" font-family='"Liberation Sans", Arial, sans-serif' font-weight="normal" fill="#000">780</text>
<text transform="scale(0.9200,1)" x="1719.18 1750.27 1781.36" y="3360.50" font-size="55.90" font-family='"Liberation Sans", Arial, sans-serif' font-weight="normal" fill="#000">785</text>
<text transform="scale(0.9200,1)" x="1395.77 1426.86 1457.95" y="3360.50" font-size="55.90" font-family='"Liberation Sans", Arial, sans-serif' font-weight="normal" fill="#000">790</text>
<text transform="scale(0.9200,1)" x="1072.53 1103.62 1134.71" y="3360.50" font-size="55.90" font-family='"Liberation Sans", Arial, sans-serif' font-weight="normal" fill="#000">795</text>
<text transform="scale(0.9200,1)" x="749.35 780.44 811.52" y="3360.50" font-size="55.90" font-family='"Liberation Sans", Arial, sans-serif' font-weight="normal" fill="#000">800</text>
<text transform="scale(0.9200,1)" x="426.11 457.19 488.28" y="3360.50" font-size="55.90" font-family='"Liberation Sans", Arial, sans-serif' font-weight="normal" fill="#000">805</text>
<text transform="scale(0.9200,1)" x="102.70 133.79 164.88" y="3360.50" font-size="55.90" font-family='"Liberation Sans", Arial, sans-serif' font-weight="normal" fill="#000">810</text>
<text transform="scale(0.9500,1)" x="1004.67 1049.56 1062.69 1099.67 1136.64 1149.77 1186.75 1223.72 1240.83 1277.80 1314.78 1351.76 1372.80 1409.78 1442.74 1459.85 1480.89 1517.87 1562.76" y="1670.00" font-size="71.40" font-family='"Liberation Sans", Arial, sans-serif' font-weight="normal" fill="#000">Binding energy (eV)</text>
<text transform="scale(0.9500,1)" x="1004.56 1050.55 1064.20 1102.13 1140.06 1153.71 1191.64 1229.58 1247.27 1285.20 1323.13 1361.06 1382.77 1420.70 1454.55 1472.25 1493.96 1531.89 1577.88" y="3462.00" font-size="72.70" font-family='"Liberation Sans", Arial, sans-serif' font-weight="normal" fill="#000">Binding energy (eV)</text>
<g transform="rotate(-90)"><text transform="scale(0.9500,1)" x="-1146.54 -1128.13 -1089.99 -1071.58 -1033.44 -995.30 -961.14 -946.67 -928.26 -894.10 -875.69 -853.37 -815.23 -796.82 -758.68 -740.27" y="93.80" font-size="70.90" font-family='"Liberation Sans", Arial, sans-serif' font-weight="normal" fill="#000">Intensity (a.u.)</text></g>
<g transform="rotate(-90)"><text transform="scale(0.9500,1)" x="-2962.89 -2944.99 -2906.94 -2889.04 -2850.99 -2812.94 -2778.96 -2765.09 -2747.19 -2713.21 -2695.31 -2673.41 -2635.36 -2617.46 -2579.41 -2561.51" y="104.00" font-size="72.40" font-family='"Liberation Sans", Arial, sans-serif' font-weight="normal" fill="#000">Intensity (a.u.)</text></g>
<text x="1139.6" y="1799.6" font-family='"Liberation Serif", "Times New Roman", serif' font-size="99.3" style="stroke:none">(</text>
<text x="1174.7" y="1799.6" font-weight="bold" font-family='"Liberation Serif", "Times New Roman", serif' font-size="99.3" style="stroke:none">a</text>
<text x="1224.2" y="1799.6" font-family='"Liberation Serif", "Times New Roman", serif' font-size="99.3" style="stroke:none">)</text>
<text x="1137.6" y="3596" font-family='"Liberation Serif", "Times New Roman", serif' font-size="99.3" style="stroke:none">(</text>
<text x="1172.7" y="3596" font-weight="bold" font-family='"Liberation Serif", "Times New Roman", serif' font-size="99.3" style="stroke:none">b</text>
<text x="1227.3" y="3596" font-family='"Liberation Serif", "Times New Roman", serif' font-size="99.3" style="stroke:none">)</text>
<text transform="scale(0.9500,1)" x="1961.67 2009.97" y="442.00" font-size="70.80" font-family='"Liberation Sans", Arial, sans-serif' font-weight="normal" fill="#000">Co</text>
<text transform="scale(0.9500,1)" x="2046.51" y="466.50" font-size="40.90" font-family='"Liberation Sans", Arial, sans-serif' font-weight="normal" fill="#000">6</text>
<text transform="scale(0.9500,1)" x="2066.43 2110.82" y="442.00" font-size="70.80" font-family='"Liberation Sans", Arial, sans-serif' font-weight="normal" fill="#000">Al</text>
<text transform="scale(0.9500,1)" x="2123.72" y="466.50" font-size="40.90" font-family='"Liberation Sans", Arial, sans-serif' font-weight="normal" fill="#000">2</text>
<text transform="scale(0.9500,1)" x="2143.63 2191.93 2232.35 2280.65 2325.04 2361.58 2398.13" y="442.00" font-size="70.80" font-family='"Liberation Sans", Arial, sans-serif' font-weight="normal" fill="#000">HTUS500</text>
<text transform="scale(0.9500,1)" x="1936.40 1984.64" y="910.30" font-size="70.80" font-family='"Liberation Sans", Arial, sans-serif' font-weight="normal" fill="#000">Co</text>
<text transform="scale(0.9500,1)" x="2021.13" y="934.80" font-size="40.90" font-family='"Liberation Sans", Arial, sans-serif' font-weight="normal" fill="#000">6</text>
<text transform="scale(0.9500,1)" x="2040.99 2085.32" y="910.30" font-size="70.80" font-family='"Liberation Sans", Arial, sans-serif' font-weight="normal" fill="#000">Al</text>
<text transform="scale(0.9500,1)" x="2098.16" y="934.80" font-size="40.90" font-family='"Liberation Sans", Arial, sans-serif' font-weight="normal" fill="#000">2</text>
<text transform="scale(0.9500,1)" x="2118.01 2166.25 2206.61 2262.70 2326.63 2363.12 2399.60" y="910.30" font-size="70.80" font-family='"Liberation Sans", Arial, sans-serif' font-weight="normal" fill="#000">HTMW500</text>
<text transform="scale(0.9500,1)" x="1961.67 2010.05" y="1343.90" font-size="70.80" font-family='"Liberation Sans", Arial, sans-serif' font-weight="normal" fill="#000">Co</text>
<text transform="scale(0.9500,1)" x="2046.68" y="1368.40" font-size="40.90" font-family='"Liberation Sans", Arial, sans-serif' font-weight="normal" fill="#000">6</text>
<text transform="scale(0.9500,1)" x="2066.68 2111.16" y="1343.90" font-size="70.80" font-family='"Liberation Sans", Arial, sans-serif' font-weight="normal" fill="#000">Al</text>
<text transform="scale(0.9500,1)" x="2124.15" y="1368.40" font-size="40.90" font-family='"Liberation Sans", Arial, sans-serif' font-weight="normal" fill="#000">2</text>
<text transform="scale(0.9500,1)" x="2144.15 2192.53 2233.03 2281.42 2321.92 2358.55 2395.18" y="1343.90" font-size="70.80" font-family='"Liberation Sans", Arial, sans-serif' font-weight="normal" fill="#000">HTCT500</text>
<text transform="scale(0.9500,1)" x="161.25 210.61" y="2234.00" font-size="70.80" font-family='"Liberation Sans", Arial, sans-serif' font-weight="normal" fill="#000">Co</text>
<text transform="scale(0.9500,1)" x="248.21" y="2258.50" font-size="40.90" font-family='"Liberation Sans", Arial, sans-serif' font-weight="normal" fill="#000">6</text>
<text transform="scale(0.9500,1)" x="269.19 314.64" y="2234.00" font-size="70.80" font-family='"Liberation Sans", Arial, sans-serif' font-weight="normal" fill="#000">Al</text>
<text transform="scale(0.9500,1)" x="328.60" y="2258.50" font-size="40.90" font-family='"Liberation Sans", Arial, sans-serif' font-weight="normal" fill="#000">2</text>
<text transform="scale(0.9500,1)" x="349.58 398.94 440.42 489.78 535.23 572.84 610.44" y="2234.00" font-size="70.80" font-family='"Liberation Sans", Arial, sans-serif' font-weight="normal" fill="#000">HTUS500</text>
<text transform="scale(0.9500,1)" x="156.09 205.64" y="2774.00" font-size="70.80" font-family='"Liberation Sans", Arial, sans-serif' font-weight="normal" fill="#000">Co</text>
<text transform="scale(0.9500,1)" x="243.43" y="2798.50" font-size="40.90" font-family='"Liberation Sans", Arial, sans-serif' font-weight="normal" fill="#000">6</text>
<text transform="scale(0.9500,1)" x="264.59 310.23" y="2774.00" font-size="70.80" font-family='"Liberation Sans", Arial, sans-serif' font-weight="normal" fill="#000">Al</text>
<text transform="scale(0.9500,1)" x="324.38" y="2798.50" font-size="40.90" font-family='"Liberation Sans", Arial, sans-serif' font-weight="normal" fill="#000">2</text>
<text transform="scale(0.9500,1)" x="345.54 395.09 436.75 494.14 559.38 597.18 634.97" y="2774.00" font-size="70.80" font-family='"Liberation Sans", Arial, sans-serif' font-weight="normal" fill="#000">HTMW500</text>
<text transform="scale(0.9500,1)" x="164.09 213.46" y="3208.30" font-size="70.80" font-family='"Liberation Sans", Arial, sans-serif' font-weight="normal" fill="#000">Co</text>
<text transform="scale(0.9500,1)" x="251.07" y="3232.80" font-size="40.90" font-family='"Liberation Sans", Arial, sans-serif' font-weight="normal" fill="#000">6</text>
<text transform="scale(0.9500,1)" x="272.05 317.51" y="3208.30" font-size="70.80" font-family='"Liberation Sans", Arial, sans-serif' font-weight="normal" fill="#000">Al</text>
<text transform="scale(0.9500,1)" x="331.48" y="3232.80" font-size="40.90" font-family='"Liberation Sans", Arial, sans-serif' font-weight="normal" fill="#000">2</text>
<text transform="scale(0.9500,1)" x="352.46 401.83 443.31 492.68 534.16 571.78 609.39" y="3208.30" font-size="70.80" font-family='"Liberation Sans", Arial, sans-serif' font-weight="normal" fill="#000">HTCT500</text>
<text transform="scale(0.9500,1)" x="1272.83" y="130.00" font-size="71.30" font-family='"Liberation Sans", Arial, sans-serif' font-weight="normal" fill="#000">O</text>
<text transform="scale(0.9500,1)" x="1322.42" y="154.20" font-size="42.20" font-family='"Liberation Sans", Arial, sans-serif' font-weight="normal" fill="#000">I</text>
<text transform="scale(0.9500,1)" x="1061.78" y="223.30" font-size="71.30" font-family='"Liberation Sans", Arial, sans-serif' font-weight="normal" fill="#000">O</text>
<text transform="scale(0.9500,1)" x="1111.90 1123.75" y="248.00" font-size="42.20" font-family='"Liberation Sans", Arial, sans-serif' font-weight="normal" fill="#000">II</text>
<text transform="scale(0.9500,1)" x="665.04" y="441.30" font-size="71.30" font-family='"Liberation Sans", Arial, sans-serif' font-weight="normal" fill="#000">O</text>
<text transform="scale(0.9500,1)" x="715.05 725.72 736.38" y="465.00" font-size="42.20" font-family='"Liberation Sans", Arial, sans-serif' font-weight="normal" fill="#000">III</text>
<text transform="scale(0.9500,1)" x="1298.94" y="685.90" font-size="71.30" font-family='"Liberation Sans", Arial, sans-serif' font-weight="normal" fill="#000">O</text>
<text transform="scale(0.9500,1)" x="1349.79" y="709.80" font-size="42.20" font-family='"Liberation Sans", Arial, sans-serif' font-weight="normal" fill="#000">I</text>
<text transform="scale(0.9500,1)" x="1089.25" y="753.00" font-size="71.30" font-family='"Liberation Sans", Arial, sans-serif' font-weight="normal" fill="#000">O</text>
<text transform="scale(0.9500,1)" x="1139.26 1150.06" y="776.80" font-size="42.20" font-family='"Liberation Sans", Arial, sans-serif' font-weight="normal" fill="#000">II</text>
<text transform="scale(0.9500,1)" x="657.89" y="922.30" font-size="71.30" font-family='"Liberation Sans", Arial, sans-serif' font-weight="normal" fill="#000">O</text>
<text transform="scale(0.9500,1)" x="707.68 718.87 730.06" y="945.80" font-size="42.20" font-family='"Liberation Sans", Arial, sans-serif' font-weight="normal" fill="#000">III</text>
<text transform="scale(0.9500,1)" x="1287.36" y="1054.50" font-size="71.30" font-family='"Liberation Sans", Arial, sans-serif' font-weight="normal" fill="#000">O</text>
<text transform="scale(0.9500,1)" x="1337.16" y="1078.00" font-size="42.20" font-family='"Liberation Sans", Arial, sans-serif' font-weight="normal" fill="#000">I</text>
<text transform="scale(0.9500,1)" x="1055.99" y="1198.80" font-size="71.30" font-family='"Liberation Sans", Arial, sans-serif' font-weight="normal" fill="#000">O</text>
<text transform="scale(0.9500,1)" x="1105.58 1117.43" y="1222.70" font-size="42.20" font-family='"Liberation Sans", Arial, sans-serif' font-weight="normal" fill="#000">II</text>
<text transform="scale(0.9500,1)" x="632.41" y="1357.30" font-size="71.30" font-family='"Liberation Sans", Arial, sans-serif' font-weight="normal" fill="#000">O</text>
<text transform="scale(0.9500,1)" x="682.42 693.61 704.80" y="1381.00" font-size="42.20" font-family='"Liberation Sans", Arial, sans-serif' font-weight="normal" fill="#000">III</text>
<text transform="scale(0.9500,1)" x="955.64 996.06" y="1990.00" font-size="60.90" font-family='"Liberation Sans", Arial, sans-serif' font-weight="normal" fill="#000">Co</text>
<text transform="scale(0.9500,1)" x="1025.66 1045.72" y="1960.20" font-size="34.00" font-family='"Liberation Sans", Arial, sans-serif' font-weight="normal" fill="#000">2+</text>
<text transform="scale(0.9500,1)" x="1081.75 1119.53" y="2025.20" font-size="60.90" font-family='"Liberation Sans", Arial, sans-serif' font-weight="normal" fill="#000">Co</text>
<text transform="scale(0.9500,1)" x="1150.92 1170.24" y="1995.40" font-size="34.00" font-family='"Liberation Sans", Arial, sans-serif' font-weight="normal" fill="#000">3+</text>
<text transform="scale(0.9500,1)" x="1946.17 1984.06" y="1939.80" font-size="60.90" font-family='"Liberation Sans", Arial, sans-serif' font-weight="normal" fill="#000">Co</text>
<text transform="scale(0.9500,1)" x="2014.29 2031.29" y="1910.10" font-size="34.00" font-family='"Liberation Sans", Arial, sans-serif' font-weight="normal" fill="#000">2+</text>
<text transform="scale(0.9500,1)" x="2005.33 2043.85" y="2025.70" font-size="60.90" font-family='"Liberation Sans", Arial, sans-serif' font-weight="normal" fill="#000">Co</text>
<text transform="scale(0.9500,1)" x="2076.92 2094.45" y="1996.30" font-size="34.00" font-family='"Liberation Sans", Arial, sans-serif' font-weight="normal" fill="#000">3+</text>
<text transform="scale(0.9500,1)" x="965.75 1005.53" y="2566.60" font-size="60.90" font-family='"Liberation Sans", Arial, sans-serif' font-weight="normal" fill="#000">Co</text>
<text transform="scale(0.9500,1)" x="1035.13 1054.14" y="2538.10" font-size="34.00" font-family='"Liberation Sans", Arial, sans-serif' font-weight="normal" fill="#000">2+</text>
<text transform="scale(0.9500,1)" x="1090.49 1131.00" y="2577.80" font-size="60.90" font-family='"Liberation Sans", Arial, sans-serif' font-weight="normal" fill="#000">Co</text>
<text transform="scale(0.9500,1)" x="1161.02 1179.61" y="2548.70" font-size="34.00" font-family='"Liberation Sans", Arial, sans-serif' font-weight="normal" fill="#000">3+</text>
<text transform="scale(0.9500,1)" x="1975.01 2015.00" y="2492.80" font-size="60.90" font-family='"Liberation Sans", Arial, sans-serif' font-weight="normal" fill="#000">Co</text>
<text transform="scale(0.9500,1)" x="2044.61 2063.72" y="2463.10" font-size="34.00" font-family='"Liberation Sans", Arial, sans-serif' font-weight="normal" fill="#000">2+</text>
<text transform="scale(0.9500,1)" x="2035.12 2075.00" y="2578.70" font-size="60.90" font-family='"Liberation Sans", Arial, sans-serif' font-weight="normal" fill="#000">Co</text>
<text transform="scale(0.9500,1)" x="2105.02 2124.66" y="2549.70" font-size="34.00" font-family='"Liberation Sans", Arial, sans-serif' font-weight="normal" fill="#000">3+</text>
<text transform="scale(0.9500,1)" x="978.17 1018.37" y="3028.00" font-size="60.90" font-family='"Liberation Sans", Arial, sans-serif' font-weight="normal" fill="#000">Co</text>
<text transform="scale(0.9500,1)" x="1047.97 1066.66" y="2999.70" font-size="34.00" font-family='"Liberation Sans", Arial, sans-serif' font-weight="normal" fill="#000">2+</text>
<text transform="scale(0.9500,1)" x="1103.64 1143.21" y="3043.50" font-size="60.90" font-family='"Liberation Sans", Arial, sans-serif' font-weight="normal" fill="#000">Co</text>
<text transform="scale(0.9500,1)" x="1173.86 1192.35" y="3011.20" font-size="34.00" font-family='"Liberation Sans", Arial, sans-serif' font-weight="normal" fill="#000">3+</text>
<text transform="scale(0.9500,1)" x="1915.85 1956.79" y="2906.50" font-size="60.90" font-family='"Liberation Sans", Arial, sans-serif' font-weight="normal" fill="#000">Co</text>
<text transform="scale(0.9500,1)" x="1986.40 2005.40" y="2877.40" font-size="34.00" font-family='"Liberation Sans", Arial, sans-serif' font-weight="normal" fill="#000">2+</text>
<text transform="scale(0.9500,1)" x="2019.54 2059.95" y="3040.50" font-size="60.90" font-family='"Liberation Sans", Arial, sans-serif' font-weight="normal" fill="#000">Co</text>
<text transform="scale(0.9500,1)" x="2090.60 2109.19" y="3010.00" font-size="34.00" font-family='"Liberation Sans", Arial, sans-serif' font-weight="normal" fill="#000">3+</text>
<text transform="scale(0.9500,1)" x="483.62 520.24 550.27" y="2086.70" font-size="59.30" font-family='"Liberation Sans", Arial, sans-serif' font-weight="normal" fill="#000">Sat</text>
<text transform="scale(0.9500,1)" x="1362.78 1399.29 1429.22" y="2111.50" font-size="59.30" font-family='"Liberation Sans", Arial, sans-serif' font-weight="normal" fill="#000">Sat</text>
<text transform="scale(0.9500,1)" x="1635.94 1672.97 1703.43" y="2105.70" font-size="59.30" font-family='"Liberation Sans", Arial, sans-serif' font-weight="normal" fill="#000">Sat</text>
<text transform="scale(0.9500,1)" x="503.94 539.87 569.22" y="2631.00" font-size="59.30" font-family='"Liberation Sans", Arial, sans-serif' font-weight="normal" fill="#000">Sat</text>
<text transform="scale(0.9500,1)" x="1376.99 1413.45 1443.33" y="2643.00" font-size="59.30" font-family='"Liberation Sans", Arial, sans-serif' font-weight="normal" fill="#000">Sat</text>
<text transform="scale(0.9500,1)" x="1673.10 1710.18 1740.70" y="2639.20" font-size="59.30" font-family='"Liberation Sans", Arial, sans-serif' font-weight="normal" fill="#000">Sat</text>
<text transform="scale(0.9500,1)" x="512.57 549.55 579.96" y="3095.40" font-size="59.30" font-family='"Liberation Sans", Arial, sans-serif' font-weight="normal" fill="#000">Sat</text>
<text transform="scale(0.9500,1)" x="1373.73 1410.39 1440.49" y="3106.50" font-size="59.30" font-family='"Liberation Sans", Arial, sans-serif' font-weight="normal" fill="#000">Sat</text>
<text transform="scale(0.9500,1)" x="1654.89 1691.97 1722.49" y="3109.20" font-size="59.30" font-family='"Liberation Sans", Arial, sans-serif' font-weight="normal" fill="#000">Sat</text>
</svg></body></html>
